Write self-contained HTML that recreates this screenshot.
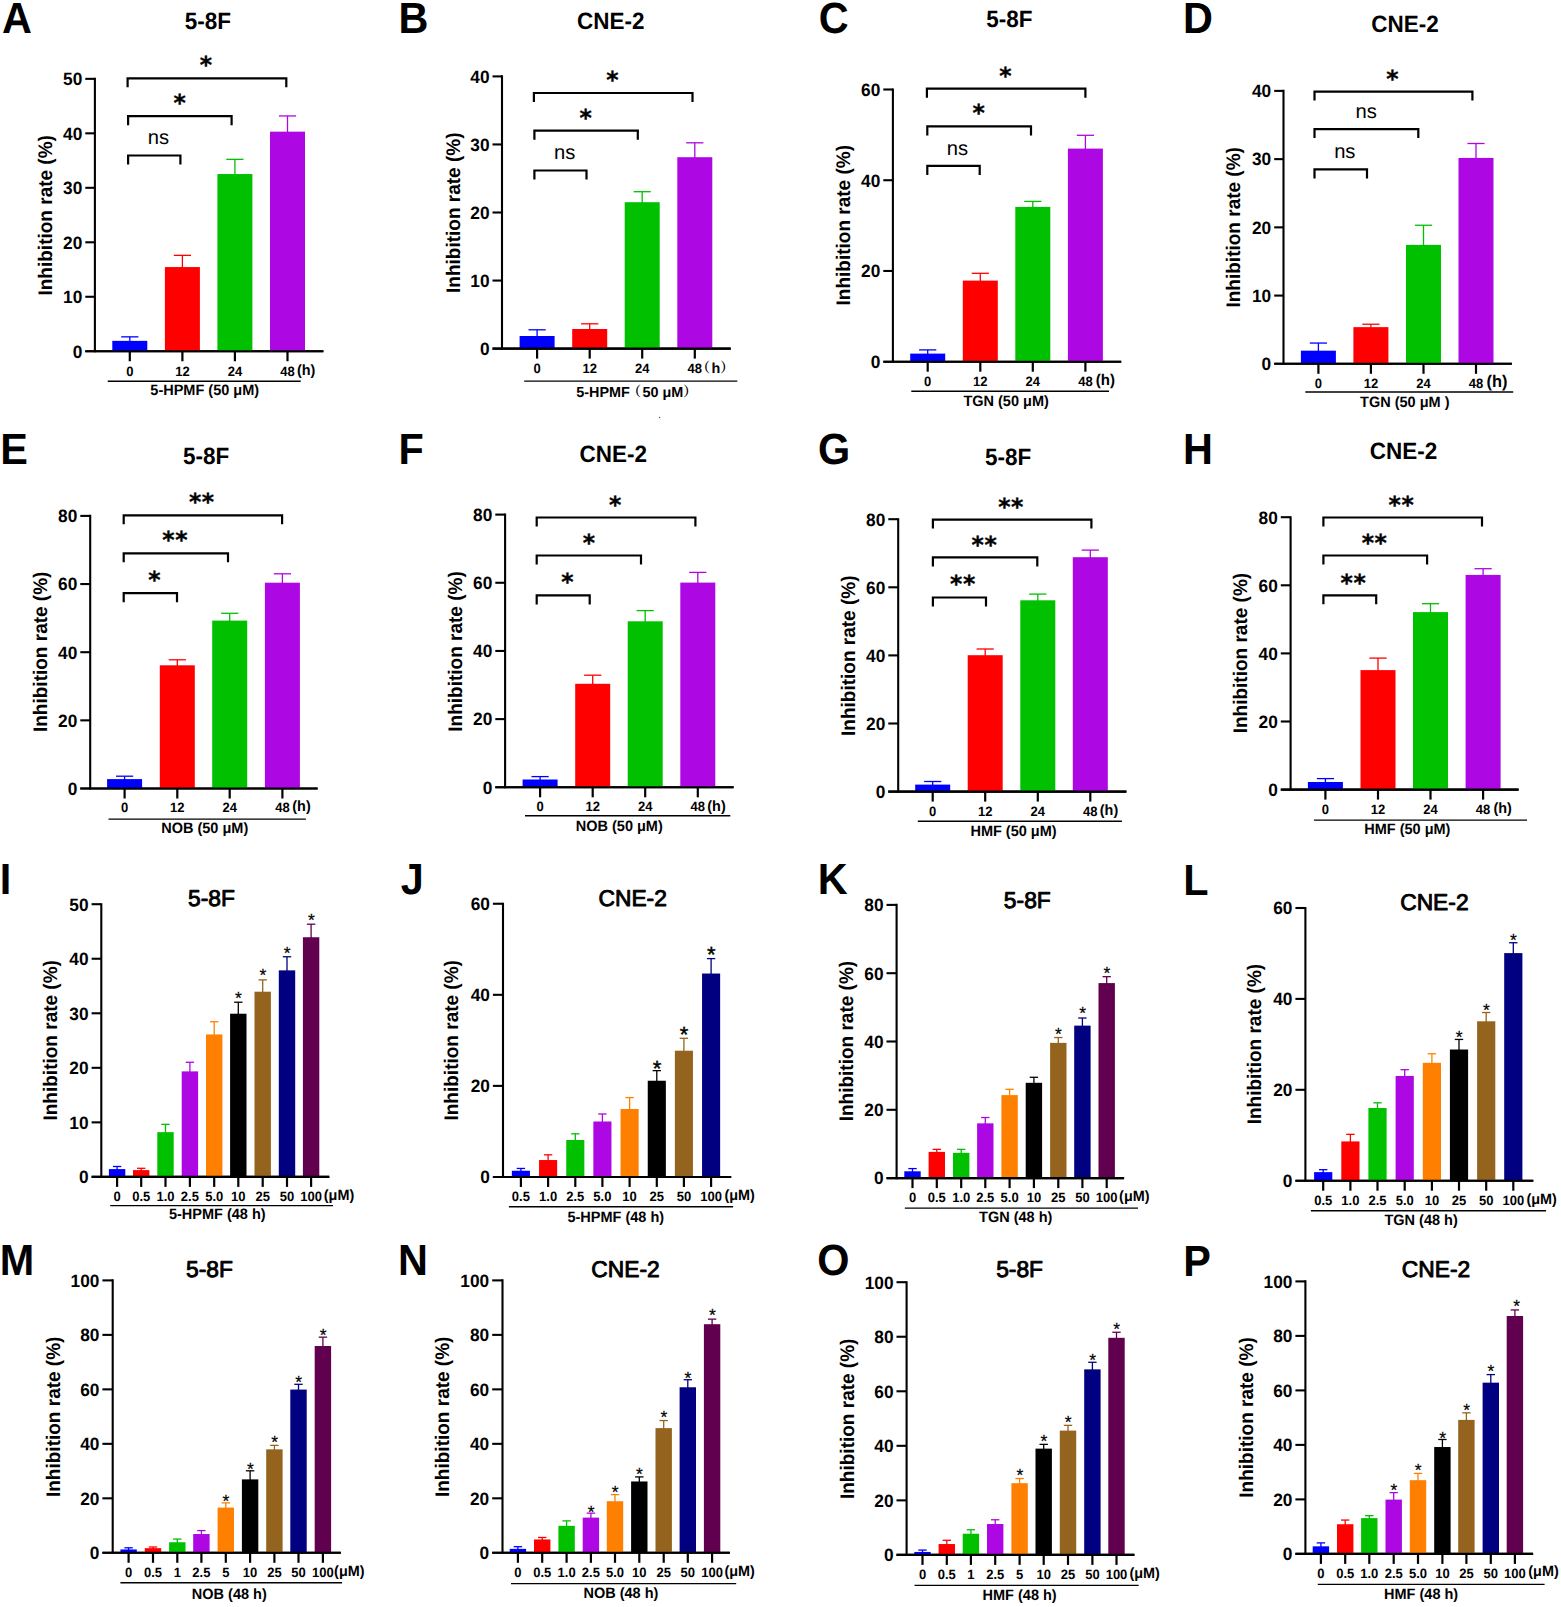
<!DOCTYPE html>
<html lang="en"><head><meta charset="utf-8"><title>Inhibition rate figure</title>
<style>
html,body{margin:0;padding:0;background:#fff}
body{width:1561px;height:1607px;overflow:hidden}
svg{display:block}
</style></head><body>
<svg width="1561" height="1607" viewBox="0 0 1561 1607" font-family="'Liberation Sans',sans-serif" font-weight="bold" fill="#000" stroke="none" text-rendering="geometricPrecision">
<rect width="1561" height="1607" fill="#fff"/>
<g id="panel-A">
<text transform="translate(2.07,32.6) scale(1,1.054)" font-size="41.4">A</text>
<text transform="translate(207.8,28.6) scale(1,1.05)" font-size="22.5" text-anchor="middle">5-8F</text>
<line x1="94.9" y1="77.8" x2="94.9" y2="352.3" stroke="#000" stroke-width="2.1"/>
<line x1="85.3" y1="351.25" x2="323.4" y2="351.25" stroke="#000" stroke-width="2.1"/>
<text transform="translate(82.3,357.61) scale(1,1.035)" font-size="17.3" text-anchor="end">0</text>
<line x1="85.3" y1="296.77" x2="94.9" y2="296.77" stroke="#000" stroke-width="2.1"/>
<text transform="translate(82.3,303.13) scale(1,1.035)" font-size="17.3" text-anchor="end">10</text>
<line x1="85.3" y1="242.29" x2="94.9" y2="242.29" stroke="#000" stroke-width="2.1"/>
<text transform="translate(82.3,248.65) scale(1,1.035)" font-size="17.3" text-anchor="end">20</text>
<line x1="85.3" y1="187.81" x2="94.9" y2="187.81" stroke="#000" stroke-width="2.1"/>
<text transform="translate(82.3,194.17) scale(1,1.035)" font-size="17.3" text-anchor="end">30</text>
<line x1="85.3" y1="133.33" x2="94.9" y2="133.33" stroke="#000" stroke-width="2.1"/>
<text transform="translate(82.3,139.69) scale(1,1.035)" font-size="17.3" text-anchor="end">40</text>
<line x1="85.3" y1="78.85" x2="94.9" y2="78.85" stroke="#000" stroke-width="2.1"/>
<text transform="translate(82.3,85.21) scale(1,1.035)" font-size="17.3" text-anchor="end">50</text>
<text transform="translate(51.8,215.3) rotate(-90) scale(1,1.035)" font-size="19" text-anchor="middle">Inhibition rate (%)</text>
<line x1="129.8" y1="336.85" x2="129.8" y2="341.85" stroke="#0000ff" stroke-width="1.3"/>
<line x1="121.2" y1="336.85" x2="138.4" y2="336.85" stroke="#0000ff" stroke-width="1.3"/>
<rect x="112.3" y="340.85" width="35" height="10.4" fill="#0000ff"/>
<line x1="182.4" y1="255.35" x2="182.4" y2="268.05" stroke="#ff0000" stroke-width="1.3"/>
<line x1="173.8" y1="255.35" x2="191" y2="255.35" stroke="#ff0000" stroke-width="1.3"/>
<rect x="164.9" y="267.05" width="35" height="84.2" fill="#ff0000"/>
<line x1="234.9" y1="159.35" x2="234.9" y2="175.05" stroke="#00c000" stroke-width="1.3"/>
<line x1="226.3" y1="159.35" x2="243.5" y2="159.35" stroke="#00c000" stroke-width="1.3"/>
<rect x="217.4" y="174.05" width="35" height="177.2" fill="#00c000"/>
<line x1="287.5" y1="115.95" x2="287.5" y2="132.65" stroke="#ad07e3" stroke-width="1.3"/>
<line x1="278.9" y1="115.95" x2="296.1" y2="115.95" stroke="#ad07e3" stroke-width="1.3"/>
<rect x="270" y="131.65" width="35" height="219.6" fill="#ad07e3"/>
<line x1="85.3" y1="351.25" x2="323.4" y2="351.25" stroke="#000" stroke-width="2.1"/>
<line x1="129.8" y1="351.25" x2="129.8" y2="361.25" stroke="#000" stroke-width="2.2"/>
<text transform="translate(129.8,376.1) scale(1,1.035)" font-size="13" text-anchor="middle">0</text>
<line x1="182.4" y1="351.25" x2="182.4" y2="361.25" stroke="#000" stroke-width="2.2"/>
<text transform="translate(182.4,376.1) scale(1,1.035)" font-size="13" text-anchor="middle">12</text>
<line x1="234.9" y1="351.25" x2="234.9" y2="361.25" stroke="#000" stroke-width="2.2"/>
<text transform="translate(234.9,376.1) scale(1,1.035)" font-size="13" text-anchor="middle">24</text>
<line x1="287.5" y1="351.25" x2="287.5" y2="361.25" stroke="#000" stroke-width="2.2"/>
<text transform="translate(287.5,376.1) scale(1,1.035)" font-size="13" text-anchor="middle">48</text>
<text transform="translate(297,374.8) scale(1,1.035)" font-size="14.4">(h)</text>
<line x1="107.7" y1="381.3" x2="300.7" y2="381.3" stroke="#000" stroke-width="1.4"/>
<text transform="translate(204.7,395.2) scale(1,1.035)" font-size="14.5" text-anchor="middle">5-HPMF (50 μM)</text>
<path d="M127.6 87.3V78.3H286.3V87.3" fill="none" stroke="#000" stroke-width="2.2"/>
<text x="206" y="73.29" font-size="23.5" text-anchor="middle" font-family="'DejaVu Sans',sans-serif" stroke="#000" stroke-width="0.35">*</text>
<path d="M128.1 125.2V116.2H231.6V125.2" fill="none" stroke="#000" stroke-width="2.2"/>
<text x="179.7" y="110.89" font-size="23.5" text-anchor="middle" font-family="'DejaVu Sans',sans-serif" stroke="#000" stroke-width="0.35">*</text>
<path d="M128.1 164.5V155.5H180.4V164.5" fill="none" stroke="#000" stroke-width="2.2"/>
<text x="158.5" y="144.2" font-size="20.2" font-weight="normal" text-anchor="middle">ns</text>
</g>
<g id="panel-B">
<text transform="translate(398.53,32.6) scale(1,1.054)" font-size="41.4">B</text>
<text transform="translate(610.7,28.6) scale(1,1.05)" font-size="22.5" text-anchor="middle">CNE-2</text>
<line x1="502" y1="75.35" x2="502" y2="349.65" stroke="#000" stroke-width="2.1"/>
<line x1="492.5" y1="348.6" x2="730.7" y2="348.6" stroke="#000" stroke-width="2.1"/>
<text transform="translate(489.5,354.96) scale(1,1.035)" font-size="17.3" text-anchor="end">0</text>
<line x1="492.5" y1="280.55" x2="502" y2="280.55" stroke="#000" stroke-width="2.1"/>
<text transform="translate(489.5,286.91) scale(1,1.035)" font-size="17.3" text-anchor="end">10</text>
<line x1="492.5" y1="212.5" x2="502" y2="212.5" stroke="#000" stroke-width="2.1"/>
<text transform="translate(489.5,218.86) scale(1,1.035)" font-size="17.3" text-anchor="end">20</text>
<line x1="492.5" y1="144.45" x2="502" y2="144.45" stroke="#000" stroke-width="2.1"/>
<text transform="translate(489.5,150.81) scale(1,1.035)" font-size="17.3" text-anchor="end">30</text>
<line x1="492.5" y1="76.4" x2="502" y2="76.4" stroke="#000" stroke-width="2.1"/>
<text transform="translate(489.5,82.76) scale(1,1.035)" font-size="17.3" text-anchor="end">40</text>
<text transform="translate(459.6,212.7) rotate(-90) scale(1,1.035)" font-size="19" text-anchor="middle">Inhibition rate (%)</text>
<line x1="537.1" y1="329.8" x2="537.1" y2="337" stroke="#0000ff" stroke-width="1.3"/>
<line x1="528.5" y1="329.8" x2="545.7" y2="329.8" stroke="#0000ff" stroke-width="1.3"/>
<rect x="519.6" y="336" width="35" height="12.6" fill="#0000ff"/>
<line x1="589.7" y1="323.8" x2="589.7" y2="330" stroke="#ff0000" stroke-width="1.3"/>
<line x1="581.1" y1="323.8" x2="598.3" y2="323.8" stroke="#ff0000" stroke-width="1.3"/>
<rect x="572.2" y="329" width="35" height="19.6" fill="#ff0000"/>
<line x1="642.2" y1="191.7" x2="642.2" y2="203.2" stroke="#00c000" stroke-width="1.3"/>
<line x1="633.6" y1="191.7" x2="650.8" y2="191.7" stroke="#00c000" stroke-width="1.3"/>
<rect x="624.7" y="202.2" width="35" height="146.4" fill="#00c000"/>
<line x1="694.8" y1="142.8" x2="694.8" y2="158.2" stroke="#ad07e3" stroke-width="1.3"/>
<line x1="686.2" y1="142.8" x2="703.4" y2="142.8" stroke="#ad07e3" stroke-width="1.3"/>
<rect x="677.3" y="157.2" width="35" height="191.4" fill="#ad07e3"/>
<line x1="492.5" y1="348.6" x2="730.7" y2="348.6" stroke="#000" stroke-width="2.1"/>
<line x1="537.1" y1="348.6" x2="537.1" y2="358.6" stroke="#000" stroke-width="2.2"/>
<text transform="translate(537.1,372.9) scale(1,1.035)" font-size="13" text-anchor="middle">0</text>
<line x1="589.7" y1="348.6" x2="589.7" y2="358.6" stroke="#000" stroke-width="2.2"/>
<text transform="translate(589.7,372.9) scale(1,1.035)" font-size="13" text-anchor="middle">12</text>
<line x1="642.2" y1="348.6" x2="642.2" y2="358.6" stroke="#000" stroke-width="2.2"/>
<text transform="translate(642.2,372.9) scale(1,1.035)" font-size="13" text-anchor="middle">24</text>
<line x1="694.8" y1="348.6" x2="694.8" y2="358.6" stroke="#000" stroke-width="2.2"/>
<text transform="translate(694.8,372.9) scale(1,1.035)" font-size="13" text-anchor="middle">48</text>
<line x1="524.2" y1="381.1" x2="737.3" y2="381.1" stroke="#000" stroke-width="1.4"/>
<path d="M533.9 102V93H692.5V102" fill="none" stroke="#000" stroke-width="2.2"/>
<text x="612.3" y="87.89" font-size="23.5" text-anchor="middle" font-family="'DejaVu Sans',sans-serif" stroke="#000" stroke-width="0.35">*</text>
<path d="M534.4 139.7V130.7H637.8V139.7" fill="none" stroke="#000" stroke-width="2.2"/>
<text x="585.6" y="126.09" font-size="23.5" text-anchor="middle" font-family="'DejaVu Sans',sans-serif" stroke="#000" stroke-width="0.35">*</text>
<path d="M534.4 179.5V170.5H586.5V179.5" fill="none" stroke="#000" stroke-width="2.2"/>
<text x="564.7" y="159.2" font-size="20.2" font-weight="normal" text-anchor="middle">ns</text>
<circle cx="659.6" cy="417.5" r="0.7" fill="#555"/>
<text y="372.9" font-size="14.4"><tspan x="696.5" y="372.1" font-family="'Liberation Sans','Noto Serif CJK SC',serif" font-size="13.5">（</tspan><tspan x="711.4" y="372.9">h</tspan><tspan x="720.3" y="372.1" font-family="'Liberation Sans','Noto Serif CJK SC',serif" font-size="13.5">）</tspan></text>
<text y="397.1" font-size="14.4"><tspan x="576.3">5-HPMF</tspan><tspan x="627.5" y="396.3" font-family="'Liberation Sans','Noto Serif CJK SC',serif" font-size="13.5">（</tspan><tspan x="642.4" y="397.1">50 μM</tspan><tspan x="683.2" y="396.3" font-family="'Liberation Sans','Noto Serif CJK SC',serif" font-size="13.5">）</tspan></text>
</g>
<g id="panel-C">
<text transform="translate(818.8,32.6) scale(1,1.054)" font-size="41.4">C</text>
<text transform="translate(1009.3,27.3) scale(1,1.05)" font-size="22.5" text-anchor="middle">5-8F</text>
<line x1="892.9" y1="88.45" x2="892.9" y2="362.75" stroke="#000" stroke-width="2.1"/>
<line x1="883.3" y1="361.7" x2="1121.2" y2="361.7" stroke="#000" stroke-width="2.1"/>
<text transform="translate(880.3,368.06) scale(1,1.035)" font-size="17.3" text-anchor="end">0</text>
<line x1="883.3" y1="270.97" x2="892.9" y2="270.97" stroke="#000" stroke-width="2.1"/>
<text transform="translate(880.3,277.32) scale(1,1.035)" font-size="17.3" text-anchor="end">20</text>
<line x1="883.3" y1="180.23" x2="892.9" y2="180.23" stroke="#000" stroke-width="2.1"/>
<text transform="translate(880.3,186.59) scale(1,1.035)" font-size="17.3" text-anchor="end">40</text>
<line x1="883.3" y1="89.5" x2="892.9" y2="89.5" stroke="#000" stroke-width="2.1"/>
<text transform="translate(880.3,95.86) scale(1,1.035)" font-size="17.3" text-anchor="end">60</text>
<text transform="translate(849.5,225.2) rotate(-90) scale(1,1.035)" font-size="19" text-anchor="middle">Inhibition rate (%)</text>
<line x1="927.7" y1="349.9" x2="927.7" y2="354.6" stroke="#0000ff" stroke-width="1.3"/>
<line x1="919.1" y1="349.9" x2="936.3" y2="349.9" stroke="#0000ff" stroke-width="1.3"/>
<rect x="910.2" y="353.6" width="35" height="8.1" fill="#0000ff"/>
<line x1="980.3" y1="273.3" x2="980.3" y2="281.6" stroke="#ff0000" stroke-width="1.3"/>
<line x1="971.7" y1="273.3" x2="988.9" y2="273.3" stroke="#ff0000" stroke-width="1.3"/>
<rect x="962.8" y="280.6" width="35" height="81.1" fill="#ff0000"/>
<line x1="1032.8" y1="201.4" x2="1032.8" y2="207.9" stroke="#00c000" stroke-width="1.3"/>
<line x1="1024.2" y1="201.4" x2="1041.4" y2="201.4" stroke="#00c000" stroke-width="1.3"/>
<rect x="1015.3" y="206.9" width="35" height="154.8" fill="#00c000"/>
<line x1="1085.4" y1="135.3" x2="1085.4" y2="149.6" stroke="#ad07e3" stroke-width="1.3"/>
<line x1="1076.8" y1="135.3" x2="1094" y2="135.3" stroke="#ad07e3" stroke-width="1.3"/>
<rect x="1067.9" y="148.6" width="35" height="213.1" fill="#ad07e3"/>
<line x1="883.3" y1="361.7" x2="1121.2" y2="361.7" stroke="#000" stroke-width="2.1"/>
<line x1="927.7" y1="361.7" x2="927.7" y2="371.7" stroke="#000" stroke-width="2.2"/>
<text transform="translate(927.7,386) scale(1,1.035)" font-size="13" text-anchor="middle">0</text>
<line x1="980.3" y1="361.7" x2="980.3" y2="371.7" stroke="#000" stroke-width="2.2"/>
<text transform="translate(980.3,386) scale(1,1.035)" font-size="13" text-anchor="middle">12</text>
<line x1="1032.8" y1="361.7" x2="1032.8" y2="371.7" stroke="#000" stroke-width="2.2"/>
<text transform="translate(1032.8,386) scale(1,1.035)" font-size="13" text-anchor="middle">24</text>
<line x1="1085.4" y1="361.7" x2="1085.4" y2="371.7" stroke="#000" stroke-width="2.2"/>
<text transform="translate(1085.4,386) scale(1,1.035)" font-size="13" text-anchor="middle">48</text>
<text transform="translate(1095.8,385) scale(1,1.035)" font-size="15">(h)</text>
<line x1="911.3" y1="391.3" x2="1109" y2="391.3" stroke="#000" stroke-width="1.4"/>
<text transform="translate(1006.1,406.4) scale(1,1.035)" font-size="14.5" text-anchor="middle">TGN (50 μM)</text>
<path d="M926.9 97.7V88.7H1085.4V97.7" fill="none" stroke="#000" stroke-width="2.2"/>
<text x="1005.4" y="83.98" font-size="23.5" text-anchor="middle" font-family="'DejaVu Sans',sans-serif" stroke="#000" stroke-width="0.35">*</text>
<path d="M927.3 135.4V126.4H1031V135.4" fill="none" stroke="#000" stroke-width="2.2"/>
<text x="978.7" y="121.48" font-size="23.5" text-anchor="middle" font-family="'DejaVu Sans',sans-serif" stroke="#000" stroke-width="0.35">*</text>
<path d="M927.3 174.9V165.9H979.7V174.9" fill="none" stroke="#000" stroke-width="2.2"/>
<text x="957.5" y="154.7" font-size="20.2" font-weight="normal" text-anchor="middle">ns</text>
</g>
<g id="panel-D">
<text transform="translate(1183.03,32.6) scale(1,1.054)" font-size="41.4">D</text>
<text transform="translate(1404.9,31.8) scale(1,1.05)" font-size="22.5" text-anchor="middle">CNE-2</text>
<line x1="1283.5" y1="89.85" x2="1283.5" y2="364.85" stroke="#000" stroke-width="2.1"/>
<line x1="1274.2" y1="363.8" x2="1511.8" y2="363.8" stroke="#000" stroke-width="2.1"/>
<text transform="translate(1271.2,370.16) scale(1,1.035)" font-size="17.3" text-anchor="end">0</text>
<line x1="1274.2" y1="295.58" x2="1283.5" y2="295.58" stroke="#000" stroke-width="2.1"/>
<text transform="translate(1271.2,301.93) scale(1,1.035)" font-size="17.3" text-anchor="end">10</text>
<line x1="1274.2" y1="227.35" x2="1283.5" y2="227.35" stroke="#000" stroke-width="2.1"/>
<text transform="translate(1271.2,233.71) scale(1,1.035)" font-size="17.3" text-anchor="end">20</text>
<line x1="1274.2" y1="159.13" x2="1283.5" y2="159.13" stroke="#000" stroke-width="2.1"/>
<text transform="translate(1271.2,165.48) scale(1,1.035)" font-size="17.3" text-anchor="end">30</text>
<line x1="1274.2" y1="90.9" x2="1283.5" y2="90.9" stroke="#000" stroke-width="2.1"/>
<text transform="translate(1271.2,97.26) scale(1,1.035)" font-size="17.3" text-anchor="end">40</text>
<text transform="translate(1240,227.3) rotate(-90) scale(1,1.035)" font-size="19" text-anchor="middle">Inhibition rate (%)</text>
<line x1="1318.4" y1="343.06" x2="1318.4" y2="351.68" stroke="#0000ff" stroke-width="1.3"/>
<line x1="1309.8" y1="343.06" x2="1327" y2="343.06" stroke="#0000ff" stroke-width="1.3"/>
<rect x="1300.9" y="350.68" width="35" height="13.12" fill="#0000ff"/>
<line x1="1370.9" y1="324.23" x2="1370.9" y2="328.13" stroke="#ff0000" stroke-width="1.3"/>
<line x1="1362.3" y1="324.23" x2="1379.5" y2="324.23" stroke="#ff0000" stroke-width="1.3"/>
<rect x="1353.4" y="327.13" width="35" height="36.67" fill="#ff0000"/>
<line x1="1423.5" y1="225.25" x2="1423.5" y2="245.88" stroke="#00c000" stroke-width="1.3"/>
<line x1="1414.9" y1="225.25" x2="1432.1" y2="225.25" stroke="#00c000" stroke-width="1.3"/>
<rect x="1406" y="244.88" width="35" height="118.92" fill="#00c000"/>
<line x1="1476" y1="143.5" x2="1476" y2="158.92" stroke="#ad07e3" stroke-width="1.3"/>
<line x1="1467.4" y1="143.5" x2="1484.6" y2="143.5" stroke="#ad07e3" stroke-width="1.3"/>
<rect x="1458.5" y="157.92" width="35" height="205.88" fill="#ad07e3"/>
<line x1="1274.2" y1="363.8" x2="1511.8" y2="363.8" stroke="#000" stroke-width="2.1"/>
<line x1="1318.4" y1="363.8" x2="1318.4" y2="373.8" stroke="#000" stroke-width="2.2"/>
<text transform="translate(1318.4,387.5) scale(1,1.035)" font-size="13" text-anchor="middle">0</text>
<line x1="1370.9" y1="363.8" x2="1370.9" y2="373.8" stroke="#000" stroke-width="2.2"/>
<text transform="translate(1370.9,387.5) scale(1,1.035)" font-size="13" text-anchor="middle">12</text>
<line x1="1423.5" y1="363.8" x2="1423.5" y2="373.8" stroke="#000" stroke-width="2.2"/>
<text transform="translate(1423.5,387.5) scale(1,1.035)" font-size="13" text-anchor="middle">24</text>
<line x1="1476" y1="363.8" x2="1476" y2="373.8" stroke="#000" stroke-width="2.2"/>
<text transform="translate(1476,387.5) scale(1,1.035)" font-size="13" text-anchor="middle">48</text>
<text transform="translate(1486.6,387.1) scale(1,1.035)" font-size="16.4">(h)</text>
<line x1="1305.3" y1="392" x2="1513.2" y2="392" stroke="#000" stroke-width="1.4"/>
<text transform="translate(1404.75,406.6) scale(1,1.035)" font-size="14.5" text-anchor="middle">TGN (50 μM )</text>
<path d="M1314.5 100.6V91.6H1472.4V100.6" fill="none" stroke="#000" stroke-width="2.2"/>
<text x="1392.4" y="86.78" font-size="23.5" text-anchor="middle" font-family="'DejaVu Sans',sans-serif" stroke="#000" stroke-width="0.35">*</text>
<path d="M1314.5 138.1V129.1H1418.3V138.1" fill="none" stroke="#000" stroke-width="2.2"/>
<text x="1366.2" y="117.5" font-size="20.2" font-weight="normal" text-anchor="middle">ns</text>
<path d="M1314.5 178.4V169.4H1367V178.4" fill="none" stroke="#000" stroke-width="2.2"/>
<text x="1344.8" y="157.9" font-size="20.2" font-weight="normal" text-anchor="middle">ns</text>
</g>
<g id="panel-E">
<text transform="translate(0.33,464.3) scale(1,1.054)" font-size="41.4">E</text>
<text transform="translate(206,464.3) scale(1,1.05)" font-size="22.5" text-anchor="middle">5-8F</text>
<line x1="90.2" y1="514.85" x2="90.2" y2="789.55" stroke="#000" stroke-width="2.1"/>
<line x1="80.3" y1="788.5" x2="317.6" y2="788.5" stroke="#000" stroke-width="2.1"/>
<text transform="translate(77.3,794.86) scale(1,1.035)" font-size="17.3" text-anchor="end">0</text>
<line x1="80.3" y1="720.35" x2="90.2" y2="720.35" stroke="#000" stroke-width="2.1"/>
<text transform="translate(77.3,726.71) scale(1,1.035)" font-size="17.3" text-anchor="end">20</text>
<line x1="80.3" y1="652.2" x2="90.2" y2="652.2" stroke="#000" stroke-width="2.1"/>
<text transform="translate(77.3,658.56) scale(1,1.035)" font-size="17.3" text-anchor="end">40</text>
<line x1="80.3" y1="584.05" x2="90.2" y2="584.05" stroke="#000" stroke-width="2.1"/>
<text transform="translate(77.3,590.41) scale(1,1.035)" font-size="17.3" text-anchor="end">60</text>
<line x1="80.3" y1="515.9" x2="90.2" y2="515.9" stroke="#000" stroke-width="2.1"/>
<text transform="translate(77.3,522.26) scale(1,1.035)" font-size="17.3" text-anchor="end">80</text>
<text transform="translate(46.5,651.8) rotate(-90) scale(1,1.035)" font-size="19" text-anchor="middle">Inhibition rate (%)</text>
<line x1="124.6" y1="776.2" x2="124.6" y2="780.1" stroke="#0000ff" stroke-width="1.3"/>
<line x1="116" y1="776.2" x2="133.2" y2="776.2" stroke="#0000ff" stroke-width="1.3"/>
<rect x="107.1" y="779.1" width="35" height="9.4" fill="#0000ff"/>
<line x1="177.3" y1="659.8" x2="177.3" y2="666.3" stroke="#ff0000" stroke-width="1.3"/>
<line x1="168.7" y1="659.8" x2="185.9" y2="659.8" stroke="#ff0000" stroke-width="1.3"/>
<rect x="159.8" y="665.3" width="35" height="123.2" fill="#ff0000"/>
<line x1="229.7" y1="613.3" x2="229.7" y2="621.6" stroke="#00c000" stroke-width="1.3"/>
<line x1="221.1" y1="613.3" x2="238.3" y2="613.3" stroke="#00c000" stroke-width="1.3"/>
<rect x="212.2" y="620.6" width="35" height="167.9" fill="#00c000"/>
<line x1="282.4" y1="573.8" x2="282.4" y2="583.7" stroke="#ad07e3" stroke-width="1.3"/>
<line x1="273.8" y1="573.8" x2="291" y2="573.8" stroke="#ad07e3" stroke-width="1.3"/>
<rect x="264.9" y="582.7" width="35" height="205.8" fill="#ad07e3"/>
<line x1="80.3" y1="788.5" x2="317.6" y2="788.5" stroke="#000" stroke-width="2.1"/>
<line x1="124.6" y1="788.5" x2="124.6" y2="798.5" stroke="#000" stroke-width="2.2"/>
<text transform="translate(124.6,811.9) scale(1,1.035)" font-size="13" text-anchor="middle">0</text>
<line x1="177.3" y1="788.5" x2="177.3" y2="798.5" stroke="#000" stroke-width="2.2"/>
<text transform="translate(177.3,811.9) scale(1,1.035)" font-size="13" text-anchor="middle">12</text>
<line x1="229.7" y1="788.5" x2="229.7" y2="798.5" stroke="#000" stroke-width="2.2"/>
<text transform="translate(229.7,811.9) scale(1,1.035)" font-size="13" text-anchor="middle">24</text>
<line x1="282.4" y1="788.5" x2="282.4" y2="798.5" stroke="#000" stroke-width="2.2"/>
<text transform="translate(282.4,811.9) scale(1,1.035)" font-size="13" text-anchor="middle">48</text>
<text transform="translate(292.3,811.2) scale(1,1.035)" font-size="14.4">(h)</text>
<line x1="108.5" y1="819.1" x2="305.9" y2="819.1" stroke="#000" stroke-width="1.4"/>
<text transform="translate(204.7,832.8) scale(1,1.035)" font-size="14.5" text-anchor="middle">NOB (50 μM)</text>
<path d="M123.7 524.3V515.3H282.1V524.3" fill="none" stroke="#000" stroke-width="2.2"/>
<text x="201.8" y="510.49" font-size="23.5" text-anchor="middle" font-family="'DejaVu Sans',sans-serif" stroke="#000" stroke-width="0.35" letter-spacing="0.6">**</text>
<path d="M123.7 562.3V553.3H228V562.3" fill="none" stroke="#000" stroke-width="2.2"/>
<text x="175.2" y="548.29" font-size="23.5" text-anchor="middle" font-family="'DejaVu Sans',sans-serif" stroke="#000" stroke-width="0.35" letter-spacing="0.6">**</text>
<path d="M123.7 602.2V593.2H177V602.2" fill="none" stroke="#000" stroke-width="2.2"/>
<text x="154.4" y="587.89" font-size="23.5" text-anchor="middle" font-family="'DejaVu Sans',sans-serif" stroke="#000" stroke-width="0.35">*</text>
</g>
<g id="panel-F">
<text transform="translate(398.53,464.3) scale(1,1.054)" font-size="41.4">F</text>
<text transform="translate(613.3,462.2) scale(1,1.05)" font-size="22.5" text-anchor="middle">CNE-2</text>
<line x1="505.1" y1="513.55" x2="505.1" y2="788.35" stroke="#000" stroke-width="2.1"/>
<line x1="495.3" y1="787.3" x2="733.6" y2="787.3" stroke="#000" stroke-width="2.1"/>
<text transform="translate(492.3,793.66) scale(1,1.035)" font-size="17.3" text-anchor="end">0</text>
<line x1="495.3" y1="719.12" x2="505.1" y2="719.12" stroke="#000" stroke-width="2.1"/>
<text transform="translate(492.3,725.48) scale(1,1.035)" font-size="17.3" text-anchor="end">20</text>
<line x1="495.3" y1="650.95" x2="505.1" y2="650.95" stroke="#000" stroke-width="2.1"/>
<text transform="translate(492.3,657.31) scale(1,1.035)" font-size="17.3" text-anchor="end">40</text>
<line x1="495.3" y1="582.77" x2="505.1" y2="582.77" stroke="#000" stroke-width="2.1"/>
<text transform="translate(492.3,589.13) scale(1,1.035)" font-size="17.3" text-anchor="end">60</text>
<line x1="495.3" y1="514.6" x2="505.1" y2="514.6" stroke="#000" stroke-width="2.1"/>
<text transform="translate(492.3,520.96) scale(1,1.035)" font-size="17.3" text-anchor="end">80</text>
<text transform="translate(461.7,651.5) rotate(-90) scale(1,1.035)" font-size="19" text-anchor="middle">Inhibition rate (%)</text>
<line x1="540.1" y1="776.6" x2="540.1" y2="780.5" stroke="#0000ff" stroke-width="1.3"/>
<line x1="531.5" y1="776.6" x2="548.7" y2="776.6" stroke="#0000ff" stroke-width="1.3"/>
<rect x="522.6" y="779.5" width="35" height="7.8" fill="#0000ff"/>
<line x1="592.7" y1="675.2" x2="592.7" y2="684.8" stroke="#ff0000" stroke-width="1.3"/>
<line x1="584.1" y1="675.2" x2="601.3" y2="675.2" stroke="#ff0000" stroke-width="1.3"/>
<rect x="575.2" y="683.8" width="35" height="103.5" fill="#ff0000"/>
<line x1="645.2" y1="610.6" x2="645.2" y2="622.3" stroke="#00c000" stroke-width="1.3"/>
<line x1="636.6" y1="610.6" x2="653.8" y2="610.6" stroke="#00c000" stroke-width="1.3"/>
<rect x="627.7" y="621.3" width="35" height="166" fill="#00c000"/>
<line x1="697.8" y1="572.4" x2="697.8" y2="583.6" stroke="#ad07e3" stroke-width="1.3"/>
<line x1="689.2" y1="572.4" x2="706.4" y2="572.4" stroke="#ad07e3" stroke-width="1.3"/>
<rect x="680.3" y="582.6" width="35" height="204.7" fill="#ad07e3"/>
<line x1="495.3" y1="787.3" x2="733.6" y2="787.3" stroke="#000" stroke-width="2.1"/>
<line x1="540.1" y1="787.3" x2="540.1" y2="797.3" stroke="#000" stroke-width="2.2"/>
<text transform="translate(540.1,811.2) scale(1,1.035)" font-size="13" text-anchor="middle">0</text>
<line x1="592.7" y1="787.3" x2="592.7" y2="797.3" stroke="#000" stroke-width="2.2"/>
<text transform="translate(592.7,811.2) scale(1,1.035)" font-size="13" text-anchor="middle">12</text>
<line x1="645.2" y1="787.3" x2="645.2" y2="797.3" stroke="#000" stroke-width="2.2"/>
<text transform="translate(645.2,811.2) scale(1,1.035)" font-size="13" text-anchor="middle">24</text>
<line x1="697.8" y1="787.3" x2="697.8" y2="797.3" stroke="#000" stroke-width="2.2"/>
<text transform="translate(697.8,811.2) scale(1,1.035)" font-size="13" text-anchor="middle">48</text>
<text transform="translate(707.3,810.7) scale(1,1.035)" font-size="14.4">(h)</text>
<line x1="525" y1="815.7" x2="730.3" y2="815.7" stroke="#000" stroke-width="1.4"/>
<text transform="translate(619.25,831.3) scale(1,1.035)" font-size="14.5" text-anchor="middle">NOB (50 μM)</text>
<path d="M536.7 526.5V517.5H695.4V526.5" fill="none" stroke="#000" stroke-width="2.2"/>
<text x="615.2" y="512.88" font-size="23.5" text-anchor="middle" font-family="'DejaVu Sans',sans-serif" stroke="#000" stroke-width="0.35">*</text>
<path d="M536.7 564.5V555.5H641V564.5" fill="none" stroke="#000" stroke-width="2.2"/>
<text x="588.8" y="550.69" font-size="23.5" text-anchor="middle" font-family="'DejaVu Sans',sans-serif" stroke="#000" stroke-width="0.35">*</text>
<path d="M536.7 604.4V595.4H589.7V604.4" fill="none" stroke="#000" stroke-width="2.2"/>
<text x="567.3" y="590.39" font-size="23.5" text-anchor="middle" font-family="'DejaVu Sans',sans-serif" stroke="#000" stroke-width="0.35">*</text>
</g>
<g id="panel-G">
<text transform="translate(818,464.3) scale(1,1.054)" font-size="41.4">G</text>
<text transform="translate(1008,465.4) scale(1,1.05)" font-size="22.5" text-anchor="middle">5-8F</text>
<line x1="898.2" y1="518.15" x2="898.2" y2="792.65" stroke="#000" stroke-width="2.1"/>
<line x1="888.3" y1="791.6" x2="1126.4" y2="791.6" stroke="#000" stroke-width="2.1"/>
<text transform="translate(885.3,797.96) scale(1,1.035)" font-size="17.3" text-anchor="end">0</text>
<line x1="888.3" y1="723.5" x2="898.2" y2="723.5" stroke="#000" stroke-width="2.1"/>
<text transform="translate(885.3,729.86) scale(1,1.035)" font-size="17.3" text-anchor="end">20</text>
<line x1="888.3" y1="655.4" x2="898.2" y2="655.4" stroke="#000" stroke-width="2.1"/>
<text transform="translate(885.3,661.76) scale(1,1.035)" font-size="17.3" text-anchor="end">40</text>
<line x1="888.3" y1="587.3" x2="898.2" y2="587.3" stroke="#000" stroke-width="2.1"/>
<text transform="translate(885.3,593.66) scale(1,1.035)" font-size="17.3" text-anchor="end">60</text>
<line x1="888.3" y1="519.2" x2="898.2" y2="519.2" stroke="#000" stroke-width="2.1"/>
<text transform="translate(885.3,525.56) scale(1,1.035)" font-size="17.3" text-anchor="end">80</text>
<text transform="translate(854.8,655.7) rotate(-90) scale(1,1.035)" font-size="19" text-anchor="middle">Inhibition rate (%)</text>
<line x1="932.7" y1="781.5" x2="932.7" y2="785.6" stroke="#0000ff" stroke-width="1.3"/>
<line x1="924.1" y1="781.5" x2="941.3" y2="781.5" stroke="#0000ff" stroke-width="1.3"/>
<rect x="915.2" y="784.6" width="35" height="7" fill="#0000ff"/>
<line x1="985.2" y1="649" x2="985.2" y2="656.2" stroke="#ff0000" stroke-width="1.3"/>
<line x1="976.6" y1="649" x2="993.8" y2="649" stroke="#ff0000" stroke-width="1.3"/>
<rect x="967.7" y="655.2" width="35" height="136.4" fill="#ff0000"/>
<line x1="1037.8" y1="594.1" x2="1037.8" y2="601.3" stroke="#00c000" stroke-width="1.3"/>
<line x1="1029.2" y1="594.1" x2="1046.4" y2="594.1" stroke="#00c000" stroke-width="1.3"/>
<rect x="1020.3" y="600.3" width="35" height="191.3" fill="#00c000"/>
<line x1="1090.3" y1="550.1" x2="1090.3" y2="558.2" stroke="#ad07e3" stroke-width="1.3"/>
<line x1="1081.7" y1="550.1" x2="1098.9" y2="550.1" stroke="#ad07e3" stroke-width="1.3"/>
<rect x="1072.8" y="557.2" width="35" height="234.4" fill="#ad07e3"/>
<line x1="888.3" y1="791.6" x2="1126.4" y2="791.6" stroke="#000" stroke-width="2.1"/>
<line x1="932.7" y1="791.6" x2="932.7" y2="801.6" stroke="#000" stroke-width="2.2"/>
<text transform="translate(932.7,815.7) scale(1,1.035)" font-size="13" text-anchor="middle">0</text>
<line x1="985.2" y1="791.6" x2="985.2" y2="801.6" stroke="#000" stroke-width="2.2"/>
<text transform="translate(985.2,815.7) scale(1,1.035)" font-size="13" text-anchor="middle">12</text>
<line x1="1037.8" y1="791.6" x2="1037.8" y2="801.6" stroke="#000" stroke-width="2.2"/>
<text transform="translate(1037.8,815.7) scale(1,1.035)" font-size="13" text-anchor="middle">24</text>
<line x1="1090.3" y1="791.6" x2="1090.3" y2="801.6" stroke="#000" stroke-width="2.2"/>
<text transform="translate(1090.3,815.7) scale(1,1.035)" font-size="13" text-anchor="middle">48</text>
<text transform="translate(1099.8,814.8) scale(1,1.035)" font-size="14.4">(h)</text>
<line x1="917.8" y1="821.2" x2="1121.9" y2="821.2" stroke="#000" stroke-width="1.4"/>
<text transform="translate(1013.5,836.1) scale(1,1.035)" font-size="14.5" text-anchor="middle">HMF (50 μM)</text>
<path d="M932.9 528.6V519.6H1091.4V528.6" fill="none" stroke="#000" stroke-width="2.2"/>
<text x="1011.1" y="514.99" font-size="23.5" text-anchor="middle" font-family="'DejaVu Sans',sans-serif" stroke="#000" stroke-width="0.35" letter-spacing="0.6">**</text>
<path d="M932.9 566.4V557.4H1037.3V566.4" fill="none" stroke="#000" stroke-width="2.2"/>
<text x="984.4" y="552.79" font-size="23.5" text-anchor="middle" font-family="'DejaVu Sans',sans-serif" stroke="#000" stroke-width="0.35" letter-spacing="0.6">**</text>
<path d="M932.9 606.5V597.5H986V606.5" fill="none" stroke="#000" stroke-width="2.2"/>
<text x="963" y="592.49" font-size="23.5" text-anchor="middle" font-family="'DejaVu Sans',sans-serif" stroke="#000" stroke-width="0.35" letter-spacing="0.6">**</text>
</g>
<g id="panel-H">
<text transform="translate(1183.03,464.3) scale(1,1.054)" font-size="41.4">H</text>
<text transform="translate(1403.6,458.8) scale(1,1.05)" font-size="22.5" text-anchor="middle">CNE-2</text>
<line x1="1290.6" y1="516.15" x2="1290.6" y2="790.65" stroke="#000" stroke-width="2.1"/>
<line x1="1280.8" y1="789.6" x2="1518.6" y2="789.6" stroke="#000" stroke-width="2.1"/>
<text transform="translate(1277.8,795.96) scale(1,1.035)" font-size="17.3" text-anchor="end">0</text>
<line x1="1280.8" y1="721.5" x2="1290.6" y2="721.5" stroke="#000" stroke-width="2.1"/>
<text transform="translate(1277.8,727.86) scale(1,1.035)" font-size="17.3" text-anchor="end">20</text>
<line x1="1280.8" y1="653.4" x2="1290.6" y2="653.4" stroke="#000" stroke-width="2.1"/>
<text transform="translate(1277.8,659.76) scale(1,1.035)" font-size="17.3" text-anchor="end">40</text>
<line x1="1280.8" y1="585.3" x2="1290.6" y2="585.3" stroke="#000" stroke-width="2.1"/>
<text transform="translate(1277.8,591.66) scale(1,1.035)" font-size="17.3" text-anchor="end">60</text>
<line x1="1280.8" y1="517.2" x2="1290.6" y2="517.2" stroke="#000" stroke-width="2.1"/>
<text transform="translate(1277.8,523.56) scale(1,1.035)" font-size="17.3" text-anchor="end">80</text>
<text transform="translate(1246.8,653.1) rotate(-90) scale(1,1.035)" font-size="19" text-anchor="middle">Inhibition rate (%)</text>
<line x1="1325.4" y1="778.6" x2="1325.4" y2="783" stroke="#0000ff" stroke-width="1.3"/>
<line x1="1316.8" y1="778.6" x2="1334" y2="778.6" stroke="#0000ff" stroke-width="1.3"/>
<rect x="1307.9" y="782" width="35" height="7.6" fill="#0000ff"/>
<line x1="1378" y1="658.1" x2="1378" y2="671.1" stroke="#ff0000" stroke-width="1.3"/>
<line x1="1369.4" y1="658.1" x2="1386.6" y2="658.1" stroke="#ff0000" stroke-width="1.3"/>
<rect x="1360.5" y="670.1" width="35" height="119.5" fill="#ff0000"/>
<line x1="1430.5" y1="603.7" x2="1430.5" y2="613.1" stroke="#00c000" stroke-width="1.3"/>
<line x1="1421.9" y1="603.7" x2="1439.1" y2="603.7" stroke="#00c000" stroke-width="1.3"/>
<rect x="1413" y="612.1" width="35" height="177.5" fill="#00c000"/>
<line x1="1483.1" y1="568.7" x2="1483.1" y2="575.9" stroke="#ad07e3" stroke-width="1.3"/>
<line x1="1474.5" y1="568.7" x2="1491.7" y2="568.7" stroke="#ad07e3" stroke-width="1.3"/>
<rect x="1465.6" y="574.9" width="35" height="214.7" fill="#ad07e3"/>
<line x1="1280.8" y1="789.6" x2="1518.6" y2="789.6" stroke="#000" stroke-width="2.1"/>
<line x1="1325.4" y1="789.6" x2="1325.4" y2="799.6" stroke="#000" stroke-width="2.2"/>
<text transform="translate(1325.4,813.9) scale(1,1.035)" font-size="13" text-anchor="middle">0</text>
<line x1="1378" y1="789.6" x2="1378" y2="799.6" stroke="#000" stroke-width="2.2"/>
<text transform="translate(1378,813.9) scale(1,1.035)" font-size="13" text-anchor="middle">12</text>
<line x1="1430.5" y1="789.6" x2="1430.5" y2="799.6" stroke="#000" stroke-width="2.2"/>
<text transform="translate(1430.5,813.9) scale(1,1.035)" font-size="13" text-anchor="middle">24</text>
<line x1="1483.1" y1="789.6" x2="1483.1" y2="799.6" stroke="#000" stroke-width="2.2"/>
<text transform="translate(1483.1,813.9) scale(1,1.035)" font-size="13" text-anchor="middle">48</text>
<text transform="translate(1493.5,812.9) scale(1,1.035)" font-size="14.4">(h)</text>
<line x1="1313.9" y1="820.1" x2="1527" y2="820.1" stroke="#000" stroke-width="1.4"/>
<text transform="translate(1407.3,834.3) scale(1,1.035)" font-size="14.5" text-anchor="middle">HMF (50 μM)</text>
<path d="M1323.4 526.5V517.5H1482V526.5" fill="none" stroke="#000" stroke-width="2.2"/>
<text x="1401.5" y="512.88" font-size="23.5" text-anchor="middle" font-family="'DejaVu Sans',sans-serif" stroke="#000" stroke-width="0.35" letter-spacing="0.6">**</text>
<path d="M1323.4 564.5V555.5H1427.1V564.5" fill="none" stroke="#000" stroke-width="2.2"/>
<text x="1374.6" y="550.79" font-size="23.5" text-anchor="middle" font-family="'DejaVu Sans',sans-serif" stroke="#000" stroke-width="0.35" letter-spacing="0.6">**</text>
<path d="M1323.4 604.3V595.3H1376.2V604.3" fill="none" stroke="#000" stroke-width="2.2"/>
<text x="1353.4" y="590.59" font-size="23.5" text-anchor="middle" font-family="'DejaVu Sans',sans-serif" stroke="#000" stroke-width="0.35" letter-spacing="0.6">**</text>
</g>
<g id="panel-I">
<text transform="translate(-0.17,893.7) scale(1,1.054)" font-size="41.4">I</text>
<text x="211.4" y="905.9" font-size="22.8" font-weight="normal" text-anchor="middle" stroke="#000" stroke-width="0.9" stroke-linejoin="round" stroke-linecap="round">5-8F</text>
<line x1="101.3" y1="903.15" x2="101.3" y2="1177.95" stroke="#000" stroke-width="2.1"/>
<line x1="91.6" y1="1176.9" x2="329.3" y2="1176.9" stroke="#000" stroke-width="2.1"/>
<text transform="translate(88.6,1183.26) scale(1,1.035)" font-size="17.3" text-anchor="end">0</text>
<line x1="91.6" y1="1122.36" x2="101.3" y2="1122.36" stroke="#000" stroke-width="2.1"/>
<text transform="translate(88.6,1128.72) scale(1,1.035)" font-size="17.3" text-anchor="end">10</text>
<line x1="91.6" y1="1067.82" x2="101.3" y2="1067.82" stroke="#000" stroke-width="2.1"/>
<text transform="translate(88.6,1074.18) scale(1,1.035)" font-size="17.3" text-anchor="end">20</text>
<line x1="91.6" y1="1013.28" x2="101.3" y2="1013.28" stroke="#000" stroke-width="2.1"/>
<text transform="translate(88.6,1019.64) scale(1,1.035)" font-size="17.3" text-anchor="end">30</text>
<line x1="91.6" y1="958.74" x2="101.3" y2="958.74" stroke="#000" stroke-width="2.1"/>
<text transform="translate(88.6,965.1) scale(1,1.035)" font-size="17.3" text-anchor="end">40</text>
<line x1="91.6" y1="904.2" x2="101.3" y2="904.2" stroke="#000" stroke-width="2.1"/>
<text transform="translate(88.6,910.56) scale(1,1.035)" font-size="17.3" text-anchor="end">50</text>
<text transform="translate(56.9,1040.3) rotate(-90) scale(1,1.035)" font-size="19" text-anchor="middle">Inhibition rate (%)</text>
<line x1="117.1" y1="1166.49" x2="117.1" y2="1170.09" stroke="#0000ff" stroke-width="1.3"/>
<line x1="112.9" y1="1166.49" x2="121.3" y2="1166.49" stroke="#0000ff" stroke-width="1.3"/>
<rect x="108.9" y="1169.09" width="16.4" height="7.81" fill="#0000ff"/>
<line x1="141.2" y1="1168.29" x2="141.2" y2="1171.09" stroke="#ff0000" stroke-width="1.3"/>
<line x1="137" y1="1168.29" x2="145.4" y2="1168.29" stroke="#ff0000" stroke-width="1.3"/>
<rect x="133" y="1170.09" width="16.4" height="6.81" fill="#ff0000"/>
<line x1="165.5" y1="1124.34" x2="165.5" y2="1133.15" stroke="#00c000" stroke-width="1.3"/>
<line x1="161.3" y1="1124.34" x2="169.7" y2="1124.34" stroke="#00c000" stroke-width="1.3"/>
<rect x="157.3" y="1132.15" width="16.4" height="44.75" fill="#00c000"/>
<line x1="189.9" y1="1062.27" x2="189.9" y2="1072.38" stroke="#ad07e3" stroke-width="1.3"/>
<line x1="185.7" y1="1062.27" x2="194.1" y2="1062.27" stroke="#ad07e3" stroke-width="1.3"/>
<rect x="181.7" y="1071.38" width="16.4" height="105.52" fill="#ad07e3"/>
<line x1="214.2" y1="1021.73" x2="214.2" y2="1035.44" stroke="#ff8000" stroke-width="1.3"/>
<line x1="210" y1="1021.73" x2="218.4" y2="1021.73" stroke="#ff8000" stroke-width="1.3"/>
<rect x="206" y="1034.44" width="16.4" height="142.46" fill="#ff8000"/>
<line x1="238.3" y1="1002.21" x2="238.3" y2="1014.72" stroke="#000000" stroke-width="1.3"/>
<line x1="234.1" y1="1002.21" x2="242.5" y2="1002.21" stroke="#000000" stroke-width="1.3"/>
<rect x="230.1" y="1013.72" width="16.4" height="163.18" fill="#000000"/>
<line x1="262.7" y1="979.88" x2="262.7" y2="992.7" stroke="#94641f" stroke-width="1.3"/>
<line x1="258.5" y1="979.88" x2="266.9" y2="979.88" stroke="#94641f" stroke-width="1.3"/>
<rect x="254.5" y="991.7" width="16.4" height="185.2" fill="#94641f"/>
<line x1="287" y1="956.76" x2="287" y2="971.37" stroke="#000080" stroke-width="1.3"/>
<line x1="282.8" y1="956.76" x2="291.2" y2="956.76" stroke="#000080" stroke-width="1.3"/>
<rect x="278.8" y="970.37" width="16.4" height="206.53" fill="#000080"/>
<line x1="311.1" y1="924.22" x2="311.1" y2="938.24" stroke="#60004f" stroke-width="1.3"/>
<line x1="306.9" y1="924.22" x2="315.3" y2="924.22" stroke="#60004f" stroke-width="1.3"/>
<rect x="302.9" y="937.24" width="16.4" height="239.66" fill="#60004f"/>
<line x1="91.6" y1="1176.9" x2="329.3" y2="1176.9" stroke="#000" stroke-width="2.1"/>
<line x1="117.1" y1="1176.9" x2="117.1" y2="1186.9" stroke="#000" stroke-width="2.2"/>
<text transform="translate(117.1,1200.7) scale(1,1.035)" font-size="13" text-anchor="middle">0</text>
<line x1="141.2" y1="1176.9" x2="141.2" y2="1186.9" stroke="#000" stroke-width="2.2"/>
<text transform="translate(141.2,1200.7) scale(1,1.035)" font-size="13" text-anchor="middle">0.5</text>
<line x1="165.5" y1="1176.9" x2="165.5" y2="1186.9" stroke="#000" stroke-width="2.2"/>
<text transform="translate(165.5,1200.7) scale(1,1.035)" font-size="13" text-anchor="middle">1.0</text>
<line x1="189.9" y1="1176.9" x2="189.9" y2="1186.9" stroke="#000" stroke-width="2.2"/>
<text transform="translate(189.9,1200.7) scale(1,1.035)" font-size="13" text-anchor="middle">2.5</text>
<line x1="214.2" y1="1176.9" x2="214.2" y2="1186.9" stroke="#000" stroke-width="2.2"/>
<text transform="translate(214.2,1200.7) scale(1,1.035)" font-size="13" text-anchor="middle">5.0</text>
<line x1="238.3" y1="1176.9" x2="238.3" y2="1186.9" stroke="#000" stroke-width="2.2"/>
<text transform="translate(238.3,1200.7) scale(1,1.035)" font-size="13" text-anchor="middle">10</text>
<line x1="262.7" y1="1176.9" x2="262.7" y2="1186.9" stroke="#000" stroke-width="2.2"/>
<text transform="translate(262.7,1200.7) scale(1,1.035)" font-size="13" text-anchor="middle">25</text>
<line x1="287" y1="1176.9" x2="287" y2="1186.9" stroke="#000" stroke-width="2.2"/>
<text transform="translate(287,1200.7) scale(1,1.035)" font-size="13" text-anchor="middle">50</text>
<line x1="311.1" y1="1176.9" x2="311.1" y2="1186.9" stroke="#000" stroke-width="2.2"/>
<text transform="translate(311.1,1200.7) scale(1,1.035)" font-size="13" text-anchor="middle">100</text>
<text transform="translate(323.8,1199.9) scale(1,1.035)" font-size="14.4">(μM)</text>
<line x1="110.2" y1="1205.6" x2="333.1" y2="1205.6" stroke="#000" stroke-width="1.4"/>
<text transform="translate(217.3,1219.1) scale(1,1.035)" font-size="14.5" text-anchor="middle">5-HPMF (48 h)</text>
<text x="238.5" y="1004.21" font-size="17.5" font-weight="normal" text-anchor="middle" stroke="#000" stroke-width="0.2">*</text>
<text x="262.9" y="981.18" font-size="17.5" font-weight="normal" text-anchor="middle" stroke="#000" stroke-width="0.2">*</text>
<text x="287.2" y="958.86" font-size="17.5" font-weight="normal" text-anchor="middle" stroke="#000" stroke-width="0.2">*</text>
<text x="311.3" y="925.52" font-size="17.5" font-weight="normal" text-anchor="middle" stroke="#000" stroke-width="0.2">*</text>
</g>
<g id="panel-J">
<text transform="translate(400.67,893.7) scale(1,1.054)" font-size="41.4">J</text>
<text x="632.7" y="906.4" font-size="22.8" font-weight="normal" text-anchor="middle" stroke="#000" stroke-width="0.9" stroke-linejoin="round" stroke-linecap="round">CNE-2</text>
<line x1="503" y1="902.7" x2="503" y2="1178" stroke="#000" stroke-width="2.1"/>
<line x1="492.9" y1="1176.95" x2="731.2" y2="1176.95" stroke="#000" stroke-width="2.1"/>
<text transform="translate(489.9,1183.31) scale(1,1.035)" font-size="17.3" text-anchor="end">0</text>
<line x1="492.9" y1="1085.88" x2="503" y2="1085.88" stroke="#000" stroke-width="2.1"/>
<text transform="translate(489.9,1092.24) scale(1,1.035)" font-size="17.3" text-anchor="end">20</text>
<line x1="492.9" y1="994.82" x2="503" y2="994.82" stroke="#000" stroke-width="2.1"/>
<text transform="translate(489.9,1001.17) scale(1,1.035)" font-size="17.3" text-anchor="end">40</text>
<line x1="492.9" y1="903.75" x2="503" y2="903.75" stroke="#000" stroke-width="2.1"/>
<text transform="translate(489.9,910.11) scale(1,1.035)" font-size="17.3" text-anchor="end">60</text>
<text transform="translate(458.4,1040.3) rotate(-90) scale(1,1.035)" font-size="19" text-anchor="middle">Inhibition rate (%)</text>
<line x1="520.9" y1="1168.44" x2="520.9" y2="1171.74" stroke="#0000ff" stroke-width="1.3"/>
<line x1="516.7" y1="1168.44" x2="525.1" y2="1168.44" stroke="#0000ff" stroke-width="1.3"/>
<rect x="511.85" y="1170.74" width="18.1" height="6.21" fill="#0000ff"/>
<line x1="548.1" y1="1154.83" x2="548.1" y2="1161.03" stroke="#ff0000" stroke-width="1.3"/>
<line x1="543.9" y1="1154.83" x2="552.3" y2="1154.83" stroke="#ff0000" stroke-width="1.3"/>
<rect x="539.05" y="1160.03" width="18.1" height="16.92" fill="#ff0000"/>
<line x1="575.3" y1="1133.8" x2="575.3" y2="1141.01" stroke="#00c000" stroke-width="1.3"/>
<line x1="571.1" y1="1133.8" x2="579.5" y2="1133.8" stroke="#00c000" stroke-width="1.3"/>
<rect x="566.25" y="1140.01" width="18.1" height="36.94" fill="#00c000"/>
<line x1="602.4" y1="1113.98" x2="602.4" y2="1122.49" stroke="#ad07e3" stroke-width="1.3"/>
<line x1="598.2" y1="1113.98" x2="606.6" y2="1113.98" stroke="#ad07e3" stroke-width="1.3"/>
<rect x="593.35" y="1121.49" width="18.1" height="55.46" fill="#ad07e3"/>
<line x1="629.6" y1="1097.56" x2="629.6" y2="1109.98" stroke="#ff8000" stroke-width="1.3"/>
<line x1="625.4" y1="1097.56" x2="633.8" y2="1097.56" stroke="#ff8000" stroke-width="1.3"/>
<rect x="620.55" y="1108.98" width="18.1" height="67.97" fill="#ff8000"/>
<line x1="656.8" y1="1070.63" x2="656.8" y2="1081.74" stroke="#000000" stroke-width="1.3"/>
<line x1="652.6" y1="1070.63" x2="661" y2="1070.63" stroke="#000000" stroke-width="1.3"/>
<rect x="647.75" y="1080.74" width="18.1" height="96.21" fill="#000000"/>
<line x1="683.9" y1="1038.3" x2="683.9" y2="1051.71" stroke="#94641f" stroke-width="1.3"/>
<line x1="679.7" y1="1038.3" x2="688.1" y2="1038.3" stroke="#94641f" stroke-width="1.3"/>
<rect x="674.85" y="1050.71" width="18.1" height="126.24" fill="#94641f"/>
<line x1="711.1" y1="958.61" x2="711.1" y2="974.53" stroke="#000080" stroke-width="1.3"/>
<line x1="706.9" y1="958.61" x2="715.3" y2="958.61" stroke="#000080" stroke-width="1.3"/>
<rect x="702.05" y="973.53" width="18.1" height="203.42" fill="#000080"/>
<line x1="492.9" y1="1176.95" x2="731.2" y2="1176.95" stroke="#000" stroke-width="2.1"/>
<line x1="520.9" y1="1176.95" x2="520.9" y2="1186.95" stroke="#000" stroke-width="2.2"/>
<text transform="translate(520.9,1200.7) scale(1,1.035)" font-size="13" text-anchor="middle">0.5</text>
<line x1="548.1" y1="1176.95" x2="548.1" y2="1186.95" stroke="#000" stroke-width="2.2"/>
<text transform="translate(548.1,1200.7) scale(1,1.035)" font-size="13" text-anchor="middle">1.0</text>
<line x1="575.3" y1="1176.95" x2="575.3" y2="1186.95" stroke="#000" stroke-width="2.2"/>
<text transform="translate(575.3,1200.7) scale(1,1.035)" font-size="13" text-anchor="middle">2.5</text>
<line x1="602.4" y1="1176.95" x2="602.4" y2="1186.95" stroke="#000" stroke-width="2.2"/>
<text transform="translate(602.4,1200.7) scale(1,1.035)" font-size="13" text-anchor="middle">5.0</text>
<line x1="629.6" y1="1176.95" x2="629.6" y2="1186.95" stroke="#000" stroke-width="2.2"/>
<text transform="translate(629.6,1200.7) scale(1,1.035)" font-size="13" text-anchor="middle">10</text>
<line x1="656.8" y1="1176.95" x2="656.8" y2="1186.95" stroke="#000" stroke-width="2.2"/>
<text transform="translate(656.8,1200.7) scale(1,1.035)" font-size="13" text-anchor="middle">25</text>
<line x1="683.9" y1="1176.95" x2="683.9" y2="1186.95" stroke="#000" stroke-width="2.2"/>
<text transform="translate(683.9,1200.7) scale(1,1.035)" font-size="13" text-anchor="middle">50</text>
<line x1="711.1" y1="1176.95" x2="711.1" y2="1186.95" stroke="#000" stroke-width="2.2"/>
<text transform="translate(711.1,1200.7) scale(1,1.035)" font-size="13" text-anchor="middle">100</text>
<text transform="translate(724.5,1199.9) scale(1,1.035)" font-size="14.4">(μM)</text>
<line x1="508.9" y1="1206.8" x2="733.1" y2="1206.8" stroke="#000" stroke-width="1.4"/>
<text transform="translate(615.8,1221.7) scale(1,1.035)" font-size="14.5" text-anchor="middle">5-HPMF (48 h)</text>
<text x="657" y="1075.93" font-size="22" font-weight="normal" text-anchor="middle" stroke="#000" stroke-width="0.45">*</text>
<text x="684.1" y="1042.43" font-size="22" font-weight="normal" text-anchor="middle" stroke="#000" stroke-width="0.45">*</text>
<text x="711.3" y="962.33" font-size="22" font-weight="normal" text-anchor="middle" stroke="#000" stroke-width="0.45">*</text>
</g>
<g id="panel-K">
<text transform="translate(817.73,893.7) scale(1,1.054)" font-size="41.4">K</text>
<text x="1027.3" y="907.7" font-size="22.8" font-weight="normal" text-anchor="middle" stroke="#000" stroke-width="0.9" stroke-linejoin="round" stroke-linecap="round">5-8F</text>
<line x1="896.6" y1="903.85" x2="896.6" y2="1179.15" stroke="#000" stroke-width="2.1"/>
<line x1="886.5" y1="1178.1" x2="1124.1" y2="1178.1" stroke="#000" stroke-width="2.1"/>
<text transform="translate(883.5,1184.46) scale(1,1.035)" font-size="17.3" text-anchor="end">0</text>
<line x1="886.5" y1="1109.8" x2="896.6" y2="1109.8" stroke="#000" stroke-width="2.1"/>
<text transform="translate(883.5,1116.16) scale(1,1.035)" font-size="17.3" text-anchor="end">20</text>
<line x1="886.5" y1="1041.5" x2="896.6" y2="1041.5" stroke="#000" stroke-width="2.1"/>
<text transform="translate(883.5,1047.86) scale(1,1.035)" font-size="17.3" text-anchor="end">40</text>
<line x1="886.5" y1="973.2" x2="896.6" y2="973.2" stroke="#000" stroke-width="2.1"/>
<text transform="translate(883.5,979.56) scale(1,1.035)" font-size="17.3" text-anchor="end">60</text>
<line x1="886.5" y1="904.9" x2="896.6" y2="904.9" stroke="#000" stroke-width="2.1"/>
<text transform="translate(883.5,911.26) scale(1,1.035)" font-size="17.3" text-anchor="end">80</text>
<text transform="translate(852.5,1041.1) rotate(-90) scale(1,1.035)" font-size="19" text-anchor="middle">Inhibition rate (%)</text>
<line x1="912.5" y1="1168.59" x2="912.5" y2="1172.29" stroke="#0000ff" stroke-width="1.3"/>
<line x1="908.3" y1="1168.59" x2="916.7" y2="1168.59" stroke="#0000ff" stroke-width="1.3"/>
<rect x="904.3" y="1171.29" width="16.4" height="6.81" fill="#0000ff"/>
<line x1="936.8" y1="1149.37" x2="936.8" y2="1152.87" stroke="#ff0000" stroke-width="1.3"/>
<line x1="932.6" y1="1149.37" x2="941" y2="1149.37" stroke="#ff0000" stroke-width="1.3"/>
<rect x="928.6" y="1151.87" width="16.4" height="26.23" fill="#ff0000"/>
<line x1="961.2" y1="1149.37" x2="961.2" y2="1153.87" stroke="#00c000" stroke-width="1.3"/>
<line x1="957" y1="1149.37" x2="965.4" y2="1149.37" stroke="#00c000" stroke-width="1.3"/>
<rect x="953" y="1152.87" width="16.4" height="25.23" fill="#00c000"/>
<line x1="985.3" y1="1117.53" x2="985.3" y2="1124.34" stroke="#ad07e3" stroke-width="1.3"/>
<line x1="981.1" y1="1117.53" x2="989.5" y2="1117.53" stroke="#ad07e3" stroke-width="1.3"/>
<rect x="977.1" y="1123.34" width="16.4" height="54.76" fill="#ad07e3"/>
<line x1="1009.6" y1="1089.3" x2="1009.6" y2="1096.11" stroke="#ff8000" stroke-width="1.3"/>
<line x1="1005.4" y1="1089.3" x2="1013.8" y2="1089.3" stroke="#ff8000" stroke-width="1.3"/>
<rect x="1001.4" y="1095.11" width="16.4" height="82.99" fill="#ff8000"/>
<line x1="1033.9" y1="1077.29" x2="1033.9" y2="1083.8" stroke="#000000" stroke-width="1.3"/>
<line x1="1029.7" y1="1077.29" x2="1038.1" y2="1077.29" stroke="#000000" stroke-width="1.3"/>
<rect x="1025.7" y="1082.8" width="16.4" height="95.3" fill="#000000"/>
<line x1="1058.3" y1="1037.55" x2="1058.3" y2="1043.85" stroke="#94641f" stroke-width="1.3"/>
<line x1="1054.1" y1="1037.55" x2="1062.5" y2="1037.55" stroke="#94641f" stroke-width="1.3"/>
<rect x="1050.1" y="1042.85" width="16.4" height="135.25" fill="#94641f"/>
<line x1="1082.4" y1="1018.02" x2="1082.4" y2="1026.63" stroke="#000080" stroke-width="1.3"/>
<line x1="1078.2" y1="1018.02" x2="1086.6" y2="1018.02" stroke="#000080" stroke-width="1.3"/>
<rect x="1074.2" y="1025.63" width="16.4" height="152.47" fill="#000080"/>
<line x1="1106.7" y1="976.68" x2="1106.7" y2="984.09" stroke="#60004f" stroke-width="1.3"/>
<line x1="1102.5" y1="976.68" x2="1110.9" y2="976.68" stroke="#60004f" stroke-width="1.3"/>
<rect x="1098.5" y="983.09" width="16.4" height="195.01" fill="#60004f"/>
<line x1="886.5" y1="1178.1" x2="1124.1" y2="1178.1" stroke="#000" stroke-width="2.1"/>
<line x1="912.5" y1="1178.1" x2="912.5" y2="1188.1" stroke="#000" stroke-width="2.2"/>
<text transform="translate(912.5,1202) scale(1,1.035)" font-size="13" text-anchor="middle">0</text>
<line x1="936.8" y1="1178.1" x2="936.8" y2="1188.1" stroke="#000" stroke-width="2.2"/>
<text transform="translate(936.8,1202) scale(1,1.035)" font-size="13" text-anchor="middle">0.5</text>
<line x1="961.2" y1="1178.1" x2="961.2" y2="1188.1" stroke="#000" stroke-width="2.2"/>
<text transform="translate(961.2,1202) scale(1,1.035)" font-size="13" text-anchor="middle">1.0</text>
<line x1="985.3" y1="1178.1" x2="985.3" y2="1188.1" stroke="#000" stroke-width="2.2"/>
<text transform="translate(985.3,1202) scale(1,1.035)" font-size="13" text-anchor="middle">2.5</text>
<line x1="1009.6" y1="1178.1" x2="1009.6" y2="1188.1" stroke="#000" stroke-width="2.2"/>
<text transform="translate(1009.6,1202) scale(1,1.035)" font-size="13" text-anchor="middle">5.0</text>
<line x1="1033.9" y1="1178.1" x2="1033.9" y2="1188.1" stroke="#000" stroke-width="2.2"/>
<text transform="translate(1033.9,1202) scale(1,1.035)" font-size="13" text-anchor="middle">10</text>
<line x1="1058.3" y1="1178.1" x2="1058.3" y2="1188.1" stroke="#000" stroke-width="2.2"/>
<text transform="translate(1058.3,1202) scale(1,1.035)" font-size="13" text-anchor="middle">25</text>
<line x1="1082.4" y1="1178.1" x2="1082.4" y2="1188.1" stroke="#000" stroke-width="2.2"/>
<text transform="translate(1082.4,1202) scale(1,1.035)" font-size="13" text-anchor="middle">50</text>
<line x1="1106.7" y1="1178.1" x2="1106.7" y2="1188.1" stroke="#000" stroke-width="2.2"/>
<text transform="translate(1106.7,1202) scale(1,1.035)" font-size="13" text-anchor="middle">100</text>
<text transform="translate(1119.1,1201.2) scale(1,1.035)" font-size="14.4">(μM)</text>
<line x1="904.8" y1="1208.1" x2="1138" y2="1208.1" stroke="#000" stroke-width="1.4"/>
<text transform="translate(1015.7,1222.2) scale(1,1.035)" font-size="14.5" text-anchor="middle">TGN (48 h)</text>
<text x="1058.5" y="1040.45" font-size="17.5" font-weight="normal" text-anchor="middle" stroke="#000" stroke-width="0.2">*</text>
<text x="1082.6" y="1018.62" font-size="17.5" font-weight="normal" text-anchor="middle" stroke="#000" stroke-width="0.2">*</text>
<text x="1106.9" y="978.58" font-size="17.5" font-weight="normal" text-anchor="middle" stroke="#000" stroke-width="0.2">*</text>
</g>
<g id="panel-L">
<text transform="translate(1183.33,894.5) scale(1,1.054)" font-size="41.4">L</text>
<text x="1434.4" y="909.5" font-size="22.8" font-weight="normal" text-anchor="middle" stroke="#000" stroke-width="0.9" stroke-linejoin="round" stroke-linecap="round">CNE-2</text>
<line x1="1305.4" y1="906.95" x2="1305.4" y2="1181.75" stroke="#000" stroke-width="2.1"/>
<line x1="1295.4" y1="1180.7" x2="1533.3" y2="1180.7" stroke="#000" stroke-width="2.1"/>
<text transform="translate(1292.4,1187.06) scale(1,1.035)" font-size="17.3" text-anchor="end">0</text>
<line x1="1295.4" y1="1089.8" x2="1305.4" y2="1089.8" stroke="#000" stroke-width="2.1"/>
<text transform="translate(1292.4,1096.16) scale(1,1.035)" font-size="17.3" text-anchor="end">20</text>
<line x1="1295.4" y1="998.9" x2="1305.4" y2="998.9" stroke="#000" stroke-width="2.1"/>
<text transform="translate(1292.4,1005.26) scale(1,1.035)" font-size="17.3" text-anchor="end">40</text>
<line x1="1295.4" y1="908" x2="1305.4" y2="908" stroke="#000" stroke-width="2.1"/>
<text transform="translate(1292.4,914.36) scale(1,1.035)" font-size="17.3" text-anchor="end">60</text>
<text transform="translate(1260.9,1044.1) rotate(-90) scale(1,1.035)" font-size="19" text-anchor="middle">Inhibition rate (%)</text>
<line x1="1323.2" y1="1169.69" x2="1323.2" y2="1173.14" stroke="#0000ff" stroke-width="1.3"/>
<line x1="1319" y1="1169.69" x2="1327.4" y2="1169.69" stroke="#0000ff" stroke-width="1.3"/>
<rect x="1314.1" y="1172.14" width="18.2" height="8.56" fill="#0000ff"/>
<line x1="1350.4" y1="1134.35" x2="1350.4" y2="1142.41" stroke="#ff0000" stroke-width="1.3"/>
<line x1="1346.2" y1="1134.35" x2="1354.6" y2="1134.35" stroke="#ff0000" stroke-width="1.3"/>
<rect x="1341.3" y="1141.41" width="18.2" height="39.29" fill="#ff0000"/>
<line x1="1377.5" y1="1102.81" x2="1377.5" y2="1108.97" stroke="#00c000" stroke-width="1.3"/>
<line x1="1373.3" y1="1102.81" x2="1381.7" y2="1102.81" stroke="#00c000" stroke-width="1.3"/>
<rect x="1368.4" y="1107.97" width="18.2" height="72.73" fill="#00c000"/>
<line x1="1404.7" y1="1069.68" x2="1404.7" y2="1076.94" stroke="#ad07e3" stroke-width="1.3"/>
<line x1="1400.5" y1="1069.68" x2="1408.9" y2="1069.68" stroke="#ad07e3" stroke-width="1.3"/>
<rect x="1395.6" y="1075.94" width="18.2" height="104.76" fill="#ad07e3"/>
<line x1="1431.9" y1="1053.76" x2="1431.9" y2="1063.82" stroke="#ff8000" stroke-width="1.3"/>
<line x1="1427.7" y1="1053.76" x2="1436.1" y2="1053.76" stroke="#ff8000" stroke-width="1.3"/>
<rect x="1422.8" y="1062.82" width="18.2" height="117.88" fill="#ff8000"/>
<line x1="1459" y1="1039.44" x2="1459" y2="1050.51" stroke="#000000" stroke-width="1.3"/>
<line x1="1454.8" y1="1039.44" x2="1463.2" y2="1039.44" stroke="#000000" stroke-width="1.3"/>
<rect x="1449.9" y="1049.51" width="18.2" height="131.19" fill="#000000"/>
<line x1="1486.2" y1="1012.52" x2="1486.2" y2="1022.27" stroke="#94641f" stroke-width="1.3"/>
<line x1="1482" y1="1012.52" x2="1490.4" y2="1012.52" stroke="#94641f" stroke-width="1.3"/>
<rect x="1477.1" y="1021.27" width="18.2" height="159.43" fill="#94641f"/>
<line x1="1513.3" y1="942.74" x2="1513.3" y2="954.1" stroke="#000080" stroke-width="1.3"/>
<line x1="1509.1" y1="942.74" x2="1517.5" y2="942.74" stroke="#000080" stroke-width="1.3"/>
<rect x="1504.2" y="953.1" width="18.2" height="227.6" fill="#000080"/>
<line x1="1295.4" y1="1180.7" x2="1533.3" y2="1180.7" stroke="#000" stroke-width="2.1"/>
<line x1="1323.2" y1="1180.7" x2="1323.2" y2="1190.7" stroke="#000" stroke-width="2.2"/>
<text transform="translate(1323.2,1205.1) scale(1,1.035)" font-size="13" text-anchor="middle">0.5</text>
<line x1="1350.4" y1="1180.7" x2="1350.4" y2="1190.7" stroke="#000" stroke-width="2.2"/>
<text transform="translate(1350.4,1205.1) scale(1,1.035)" font-size="13" text-anchor="middle">1.0</text>
<line x1="1377.5" y1="1180.7" x2="1377.5" y2="1190.7" stroke="#000" stroke-width="2.2"/>
<text transform="translate(1377.5,1205.1) scale(1,1.035)" font-size="13" text-anchor="middle">2.5</text>
<line x1="1404.7" y1="1180.7" x2="1404.7" y2="1190.7" stroke="#000" stroke-width="2.2"/>
<text transform="translate(1404.7,1205.1) scale(1,1.035)" font-size="13" text-anchor="middle">5.0</text>
<line x1="1431.9" y1="1180.7" x2="1431.9" y2="1190.7" stroke="#000" stroke-width="2.2"/>
<text transform="translate(1431.9,1205.1) scale(1,1.035)" font-size="13" text-anchor="middle">10</text>
<line x1="1459" y1="1180.7" x2="1459" y2="1190.7" stroke="#000" stroke-width="2.2"/>
<text transform="translate(1459,1205.1) scale(1,1.035)" font-size="13" text-anchor="middle">25</text>
<line x1="1486.2" y1="1180.7" x2="1486.2" y2="1190.7" stroke="#000" stroke-width="2.2"/>
<text transform="translate(1486.2,1205.1) scale(1,1.035)" font-size="13" text-anchor="middle">50</text>
<line x1="1513.3" y1="1180.7" x2="1513.3" y2="1190.7" stroke="#000" stroke-width="2.2"/>
<text transform="translate(1513.3,1205.1) scale(1,1.035)" font-size="13" text-anchor="middle">100</text>
<text transform="translate(1526.5,1203.8) scale(1,1.035)" font-size="14.4">(μM)</text>
<line x1="1310.9" y1="1210.7" x2="1546.1" y2="1210.7" stroke="#000" stroke-width="1.4"/>
<text transform="translate(1421.1,1224.8) scale(1,1.035)" font-size="14.5" text-anchor="middle">TGN (48 h)</text>
<text x="1459.2" y="1043.45" font-size="17.5" font-weight="normal" text-anchor="middle" stroke="#000" stroke-width="0.2">*</text>
<text x="1486.4" y="1016.02" font-size="17.5" font-weight="normal" text-anchor="middle" stroke="#000" stroke-width="0.2">*</text>
<text x="1513.5" y="945.54" font-size="17.5" font-weight="normal" text-anchor="middle" stroke="#000" stroke-width="0.2">*</text>
</g>
<g id="panel-M">
<text transform="translate(-0.17,1275.1) scale(1,1.054)" font-size="41.4">M</text>
<text x="209.4" y="1277.3" font-size="22.8" font-weight="normal" text-anchor="middle" stroke="#000" stroke-width="0.9" stroke-linejoin="round" stroke-linecap="round">5-8F</text>
<line x1="112.7" y1="1279.35" x2="112.7" y2="1553.85" stroke="#000" stroke-width="2.1"/>
<line x1="102.4" y1="1552.8" x2="340.8" y2="1552.8" stroke="#000" stroke-width="2.1"/>
<text transform="translate(99.4,1559.16) scale(1,1.035)" font-size="17.3" text-anchor="end">0</text>
<line x1="102.4" y1="1498.32" x2="112.7" y2="1498.32" stroke="#000" stroke-width="2.1"/>
<text transform="translate(99.4,1504.68) scale(1,1.035)" font-size="17.3" text-anchor="end">20</text>
<line x1="102.4" y1="1443.84" x2="112.7" y2="1443.84" stroke="#000" stroke-width="2.1"/>
<text transform="translate(99.4,1450.2) scale(1,1.035)" font-size="17.3" text-anchor="end">40</text>
<line x1="102.4" y1="1389.36" x2="112.7" y2="1389.36" stroke="#000" stroke-width="2.1"/>
<text transform="translate(99.4,1395.72) scale(1,1.035)" font-size="17.3" text-anchor="end">60</text>
<line x1="102.4" y1="1334.88" x2="112.7" y2="1334.88" stroke="#000" stroke-width="2.1"/>
<text transform="translate(99.4,1341.24) scale(1,1.035)" font-size="17.3" text-anchor="end">80</text>
<line x1="102.4" y1="1280.4" x2="112.7" y2="1280.4" stroke="#000" stroke-width="2.1"/>
<text transform="translate(99.4,1286.76) scale(1,1.035)" font-size="17.3" text-anchor="end">100</text>
<text transform="translate(59.7,1416.8) rotate(-90) scale(1,1.035)" font-size="19" text-anchor="middle">Inhibition rate (%)</text>
<line x1="128.6" y1="1547.79" x2="128.6" y2="1550.45" stroke="#0000ff" stroke-width="1.3"/>
<line x1="124.4" y1="1547.79" x2="132.8" y2="1547.79" stroke="#0000ff" stroke-width="1.3"/>
<rect x="120.4" y="1549.45" width="16.4" height="3.35" fill="#0000ff"/>
<line x1="153" y1="1546.99" x2="153" y2="1549.15" stroke="#ff0000" stroke-width="1.3"/>
<line x1="148.8" y1="1546.99" x2="157.2" y2="1546.99" stroke="#ff0000" stroke-width="1.3"/>
<rect x="144.8" y="1548.15" width="16.4" height="4.65" fill="#ff0000"/>
<line x1="177.3" y1="1539.09" x2="177.3" y2="1543.24" stroke="#00c000" stroke-width="1.3"/>
<line x1="173.1" y1="1539.09" x2="181.5" y2="1539.09" stroke="#00c000" stroke-width="1.3"/>
<rect x="169.1" y="1542.24" width="16.4" height="10.56" fill="#00c000"/>
<line x1="201.4" y1="1530.58" x2="201.4" y2="1535.03" stroke="#ad07e3" stroke-width="1.3"/>
<line x1="197.2" y1="1530.58" x2="205.6" y2="1530.58" stroke="#ad07e3" stroke-width="1.3"/>
<rect x="193.2" y="1534.03" width="16.4" height="18.77" fill="#ad07e3"/>
<line x1="225.8" y1="1502.85" x2="225.8" y2="1508.6" stroke="#ff8000" stroke-width="1.3"/>
<line x1="221.6" y1="1502.85" x2="230" y2="1502.85" stroke="#ff8000" stroke-width="1.3"/>
<rect x="217.6" y="1507.6" width="16.4" height="45.2" fill="#ff8000"/>
<line x1="250.1" y1="1470.81" x2="250.1" y2="1480.37" stroke="#000000" stroke-width="1.3"/>
<line x1="245.9" y1="1470.81" x2="254.3" y2="1470.81" stroke="#000000" stroke-width="1.3"/>
<rect x="241.9" y="1479.37" width="16.4" height="73.43" fill="#000000"/>
<line x1="274.4" y1="1445.38" x2="274.4" y2="1450.34" stroke="#94641f" stroke-width="1.3"/>
<line x1="270.2" y1="1445.38" x2="278.6" y2="1445.38" stroke="#94641f" stroke-width="1.3"/>
<rect x="266.2" y="1449.34" width="16.4" height="103.46" fill="#94641f"/>
<line x1="298.5" y1="1384.31" x2="298.5" y2="1390.57" stroke="#000080" stroke-width="1.3"/>
<line x1="294.3" y1="1384.31" x2="302.7" y2="1384.31" stroke="#000080" stroke-width="1.3"/>
<rect x="290.3" y="1389.57" width="16.4" height="163.23" fill="#000080"/>
<line x1="322.9" y1="1337.16" x2="322.9" y2="1347.02" stroke="#60004f" stroke-width="1.3"/>
<line x1="318.7" y1="1337.16" x2="327.1" y2="1337.16" stroke="#60004f" stroke-width="1.3"/>
<rect x="314.7" y="1346.02" width="16.4" height="206.78" fill="#60004f"/>
<line x1="102.4" y1="1552.8" x2="340.8" y2="1552.8" stroke="#000" stroke-width="2.1"/>
<line x1="128.6" y1="1552.8" x2="128.6" y2="1562.8" stroke="#000" stroke-width="2.2"/>
<text transform="translate(128.6,1577.2) scale(1,1.035)" font-size="13" text-anchor="middle">0</text>
<line x1="153" y1="1552.8" x2="153" y2="1562.8" stroke="#000" stroke-width="2.2"/>
<text transform="translate(153,1577.2) scale(1,1.035)" font-size="13" text-anchor="middle">0.5</text>
<line x1="177.3" y1="1552.8" x2="177.3" y2="1562.8" stroke="#000" stroke-width="2.2"/>
<text transform="translate(177.3,1577.2) scale(1,1.035)" font-size="13" text-anchor="middle">1</text>
<line x1="201.4" y1="1552.8" x2="201.4" y2="1562.8" stroke="#000" stroke-width="2.2"/>
<text transform="translate(201.4,1577.2) scale(1,1.035)" font-size="13" text-anchor="middle">2.5</text>
<line x1="225.8" y1="1552.8" x2="225.8" y2="1562.8" stroke="#000" stroke-width="2.2"/>
<text transform="translate(225.8,1577.2) scale(1,1.035)" font-size="13" text-anchor="middle">5</text>
<line x1="250.1" y1="1552.8" x2="250.1" y2="1562.8" stroke="#000" stroke-width="2.2"/>
<text transform="translate(250.1,1577.2) scale(1,1.035)" font-size="13" text-anchor="middle">10</text>
<line x1="274.4" y1="1552.8" x2="274.4" y2="1562.8" stroke="#000" stroke-width="2.2"/>
<text transform="translate(274.4,1577.2) scale(1,1.035)" font-size="13" text-anchor="middle">25</text>
<line x1="298.5" y1="1552.8" x2="298.5" y2="1562.8" stroke="#000" stroke-width="2.2"/>
<text transform="translate(298.5,1577.2) scale(1,1.035)" font-size="13" text-anchor="middle">50</text>
<line x1="322.9" y1="1552.8" x2="322.9" y2="1562.8" stroke="#000" stroke-width="2.2"/>
<text transform="translate(322.9,1577.2) scale(1,1.035)" font-size="13" text-anchor="middle">100</text>
<text transform="translate(334.1,1575.9) scale(1,1.035)" font-size="14.4">(μM)</text>
<line x1="120.4" y1="1582.8" x2="342.1" y2="1582.8" stroke="#000" stroke-width="1.4"/>
<text transform="translate(229.3,1599) scale(1,1.035)" font-size="14.5" text-anchor="middle">NOB (48 h)</text>
<text x="226" y="1506.65" font-size="17.5" font-weight="normal" text-anchor="middle" stroke="#000" stroke-width="0.2">*</text>
<text x="250.3" y="1474.61" font-size="17.5" font-weight="normal" text-anchor="middle" stroke="#000" stroke-width="0.2">*</text>
<text x="274.6" y="1448.18" font-size="17.5" font-weight="normal" text-anchor="middle" stroke="#000" stroke-width="0.2">*</text>
<text x="298.7" y="1387.92" font-size="17.5" font-weight="normal" text-anchor="middle" stroke="#000" stroke-width="0.2">*</text>
<text x="323.1" y="1340.67" font-size="17.5" font-weight="normal" text-anchor="middle" stroke="#000" stroke-width="0.2">*</text>
</g>
<g id="panel-N">
<text transform="translate(398.03,1275.1) scale(1,1.054)" font-size="41.4">N</text>
<text x="625.5" y="1276.5" font-size="22.8" font-weight="normal" text-anchor="middle" stroke="#000" stroke-width="0.9" stroke-linejoin="round" stroke-linecap="round">CNE-2</text>
<line x1="502.5" y1="1279.35" x2="502.5" y2="1553.85" stroke="#000" stroke-width="2.1"/>
<line x1="492.2" y1="1552.8" x2="729.8" y2="1552.8" stroke="#000" stroke-width="2.1"/>
<text transform="translate(489.2,1559.16) scale(1,1.035)" font-size="17.3" text-anchor="end">0</text>
<line x1="492.2" y1="1498.32" x2="502.5" y2="1498.32" stroke="#000" stroke-width="2.1"/>
<text transform="translate(489.2,1504.68) scale(1,1.035)" font-size="17.3" text-anchor="end">20</text>
<line x1="492.2" y1="1443.84" x2="502.5" y2="1443.84" stroke="#000" stroke-width="2.1"/>
<text transform="translate(489.2,1450.2) scale(1,1.035)" font-size="17.3" text-anchor="end">40</text>
<line x1="492.2" y1="1389.36" x2="502.5" y2="1389.36" stroke="#000" stroke-width="2.1"/>
<text transform="translate(489.2,1395.72) scale(1,1.035)" font-size="17.3" text-anchor="end">60</text>
<line x1="492.2" y1="1334.88" x2="502.5" y2="1334.88" stroke="#000" stroke-width="2.1"/>
<text transform="translate(489.2,1341.24) scale(1,1.035)" font-size="17.3" text-anchor="end">80</text>
<line x1="492.2" y1="1280.4" x2="502.5" y2="1280.4" stroke="#000" stroke-width="2.1"/>
<text transform="translate(489.2,1286.76) scale(1,1.035)" font-size="17.3" text-anchor="end">100</text>
<text transform="translate(449.2,1416.8) rotate(-90) scale(1,1.035)" font-size="19" text-anchor="middle">Inhibition rate (%)</text>
<line x1="517.9" y1="1546.69" x2="517.9" y2="1549.85" stroke="#0000ff" stroke-width="1.3"/>
<line x1="513.7" y1="1546.69" x2="522.1" y2="1546.69" stroke="#0000ff" stroke-width="1.3"/>
<rect x="509.7" y="1548.85" width="16.4" height="3.95" fill="#0000ff"/>
<line x1="542.2" y1="1537.48" x2="542.2" y2="1540.44" stroke="#ff0000" stroke-width="1.3"/>
<line x1="538" y1="1537.48" x2="546.4" y2="1537.48" stroke="#ff0000" stroke-width="1.3"/>
<rect x="534" y="1539.44" width="16.4" height="13.36" fill="#ff0000"/>
<line x1="566.6" y1="1520.87" x2="566.6" y2="1526.82" stroke="#00c000" stroke-width="1.3"/>
<line x1="562.4" y1="1520.87" x2="570.8" y2="1520.87" stroke="#00c000" stroke-width="1.3"/>
<rect x="558.4" y="1525.82" width="16.4" height="26.98" fill="#00c000"/>
<line x1="590.9" y1="1513.16" x2="590.9" y2="1518.61" stroke="#ad07e3" stroke-width="1.3"/>
<line x1="586.7" y1="1513.16" x2="595.1" y2="1513.16" stroke="#ad07e3" stroke-width="1.3"/>
<rect x="582.7" y="1517.61" width="16.4" height="35.19" fill="#ad07e3"/>
<line x1="615" y1="1494.64" x2="615" y2="1502.19" stroke="#ff8000" stroke-width="1.3"/>
<line x1="610.8" y1="1494.64" x2="619.2" y2="1494.64" stroke="#ff8000" stroke-width="1.3"/>
<rect x="606.8" y="1501.19" width="16.4" height="51.61" fill="#ff8000"/>
<line x1="639.3" y1="1476.92" x2="639.3" y2="1482.47" stroke="#000000" stroke-width="1.3"/>
<line x1="635.1" y1="1476.92" x2="643.5" y2="1476.92" stroke="#000000" stroke-width="1.3"/>
<rect x="631.1" y="1481.47" width="16.4" height="71.33" fill="#000000"/>
<line x1="663.7" y1="1420.55" x2="663.7" y2="1429.11" stroke="#94641f" stroke-width="1.3"/>
<line x1="659.5" y1="1420.55" x2="667.9" y2="1420.55" stroke="#94641f" stroke-width="1.3"/>
<rect x="655.5" y="1428.11" width="16.4" height="124.69" fill="#94641f"/>
<line x1="687.8" y1="1379.71" x2="687.8" y2="1388.27" stroke="#000080" stroke-width="1.3"/>
<line x1="683.6" y1="1379.71" x2="692" y2="1379.71" stroke="#000080" stroke-width="1.3"/>
<rect x="679.6" y="1387.27" width="16.4" height="165.53" fill="#000080"/>
<line x1="712.1" y1="1319.14" x2="712.1" y2="1325.2" stroke="#60004f" stroke-width="1.3"/>
<line x1="707.9" y1="1319.14" x2="716.3" y2="1319.14" stroke="#60004f" stroke-width="1.3"/>
<rect x="703.9" y="1324.2" width="16.4" height="228.6" fill="#60004f"/>
<line x1="492.2" y1="1552.8" x2="729.8" y2="1552.8" stroke="#000" stroke-width="2.1"/>
<line x1="517.9" y1="1552.8" x2="517.9" y2="1562.8" stroke="#000" stroke-width="2.2"/>
<text transform="translate(517.9,1577.2) scale(1,1.035)" font-size="13" text-anchor="middle">0</text>
<line x1="542.2" y1="1552.8" x2="542.2" y2="1562.8" stroke="#000" stroke-width="2.2"/>
<text transform="translate(542.2,1577.2) scale(1,1.035)" font-size="13" text-anchor="middle">0.5</text>
<line x1="566.6" y1="1552.8" x2="566.6" y2="1562.8" stroke="#000" stroke-width="2.2"/>
<text transform="translate(566.6,1577.2) scale(1,1.035)" font-size="13" text-anchor="middle">1.0</text>
<line x1="590.9" y1="1552.8" x2="590.9" y2="1562.8" stroke="#000" stroke-width="2.2"/>
<text transform="translate(590.9,1577.2) scale(1,1.035)" font-size="13" text-anchor="middle">2.5</text>
<line x1="615" y1="1552.8" x2="615" y2="1562.8" stroke="#000" stroke-width="2.2"/>
<text transform="translate(615,1577.2) scale(1,1.035)" font-size="13" text-anchor="middle">5.0</text>
<line x1="639.3" y1="1552.8" x2="639.3" y2="1562.8" stroke="#000" stroke-width="2.2"/>
<text transform="translate(639.3,1577.2) scale(1,1.035)" font-size="13" text-anchor="middle">10</text>
<line x1="663.7" y1="1552.8" x2="663.7" y2="1562.8" stroke="#000" stroke-width="2.2"/>
<text transform="translate(663.7,1577.2) scale(1,1.035)" font-size="13" text-anchor="middle">25</text>
<line x1="687.8" y1="1552.8" x2="687.8" y2="1562.8" stroke="#000" stroke-width="2.2"/>
<text transform="translate(687.8,1577.2) scale(1,1.035)" font-size="13" text-anchor="middle">50</text>
<line x1="712.1" y1="1552.8" x2="712.1" y2="1562.8" stroke="#000" stroke-width="2.2"/>
<text transform="translate(712.1,1577.2) scale(1,1.035)" font-size="13" text-anchor="middle">100</text>
<text transform="translate(724.5,1575.9) scale(1,1.035)" font-size="14.4">(μM)</text>
<line x1="511" y1="1583.6" x2="736.2" y2="1583.6" stroke="#000" stroke-width="1.4"/>
<text transform="translate(620.9,1598.2) scale(1,1.035)" font-size="14.5" text-anchor="middle">NOB (48 h)</text>
<text x="591.1" y="1517.76" font-size="17.5" font-weight="normal" text-anchor="middle" stroke="#000" stroke-width="0.2">*</text>
<text x="615.2" y="1497.74" font-size="17.5" font-weight="normal" text-anchor="middle" stroke="#000" stroke-width="0.2">*</text>
<text x="639.5" y="1480.22" font-size="17.5" font-weight="normal" text-anchor="middle" stroke="#000" stroke-width="0.2">*</text>
<text x="663.9" y="1422.76" font-size="17.5" font-weight="normal" text-anchor="middle" stroke="#000" stroke-width="0.2">*</text>
<text x="688" y="1383.51" font-size="17.5" font-weight="normal" text-anchor="middle" stroke="#000" stroke-width="0.2">*</text>
<text x="712.3" y="1321.45" font-size="17.5" font-weight="normal" text-anchor="middle" stroke="#000" stroke-width="0.2">*</text>
</g>
<g id="panel-O">
<text transform="translate(817.2,1275.1) scale(1,1.054)" font-size="41.4">O</text>
<text x="1019.6" y="1276.8" font-size="22.8" font-weight="normal" text-anchor="middle" stroke="#000" stroke-width="0.9" stroke-linejoin="round" stroke-linecap="round">5-8F</text>
<line x1="906.6" y1="1281.15" x2="906.6" y2="1555.95" stroke="#000" stroke-width="2.1"/>
<line x1="896.5" y1="1554.9" x2="1134.4" y2="1554.9" stroke="#000" stroke-width="2.1"/>
<text transform="translate(893.5,1561.26) scale(1,1.035)" font-size="17.3" text-anchor="end">0</text>
<line x1="896.5" y1="1500.36" x2="906.6" y2="1500.36" stroke="#000" stroke-width="2.1"/>
<text transform="translate(893.5,1506.72) scale(1,1.035)" font-size="17.3" text-anchor="end">20</text>
<line x1="896.5" y1="1445.82" x2="906.6" y2="1445.82" stroke="#000" stroke-width="2.1"/>
<text transform="translate(893.5,1452.18) scale(1,1.035)" font-size="17.3" text-anchor="end">40</text>
<line x1="896.5" y1="1391.28" x2="906.6" y2="1391.28" stroke="#000" stroke-width="2.1"/>
<text transform="translate(893.5,1397.64) scale(1,1.035)" font-size="17.3" text-anchor="end">60</text>
<line x1="896.5" y1="1336.74" x2="906.6" y2="1336.74" stroke="#000" stroke-width="2.1"/>
<text transform="translate(893.5,1343.1) scale(1,1.035)" font-size="17.3" text-anchor="end">80</text>
<line x1="896.5" y1="1282.2" x2="906.6" y2="1282.2" stroke="#000" stroke-width="2.1"/>
<text transform="translate(893.5,1288.56) scale(1,1.035)" font-size="17.3" text-anchor="end">100</text>
<text transform="translate(853.8,1418.8) rotate(-90) scale(1,1.035)" font-size="19" text-anchor="middle">Inhibition rate (%)</text>
<line x1="922.5" y1="1550.09" x2="922.5" y2="1552.95" stroke="#0000ff" stroke-width="1.3"/>
<line x1="918.3" y1="1550.09" x2="926.7" y2="1550.09" stroke="#0000ff" stroke-width="1.3"/>
<rect x="914.3" y="1551.95" width="16.4" height="2.95" fill="#0000ff"/>
<line x1="946.8" y1="1540.28" x2="946.8" y2="1545.04" stroke="#ff0000" stroke-width="1.3"/>
<line x1="942.6" y1="1540.28" x2="951" y2="1540.28" stroke="#ff0000" stroke-width="1.3"/>
<rect x="938.6" y="1544.04" width="16.4" height="10.86" fill="#ff0000"/>
<line x1="970.9" y1="1529.77" x2="970.9" y2="1534.73" stroke="#00c000" stroke-width="1.3"/>
<line x1="966.7" y1="1529.77" x2="975.1" y2="1529.77" stroke="#00c000" stroke-width="1.3"/>
<rect x="962.7" y="1533.73" width="16.4" height="21.17" fill="#00c000"/>
<line x1="995.2" y1="1519.76" x2="995.2" y2="1525.02" stroke="#ad07e3" stroke-width="1.3"/>
<line x1="991" y1="1519.76" x2="999.4" y2="1519.76" stroke="#ad07e3" stroke-width="1.3"/>
<rect x="987" y="1524.02" width="16.4" height="30.88" fill="#ad07e3"/>
<line x1="1019.6" y1="1478.52" x2="1019.6" y2="1484.17" stroke="#ff8000" stroke-width="1.3"/>
<line x1="1015.4" y1="1478.52" x2="1023.8" y2="1478.52" stroke="#ff8000" stroke-width="1.3"/>
<rect x="1011.4" y="1483.17" width="16.4" height="71.73" fill="#ff8000"/>
<line x1="1043.7" y1="1444.38" x2="1043.7" y2="1449.63" stroke="#000000" stroke-width="1.3"/>
<line x1="1039.5" y1="1444.38" x2="1047.9" y2="1444.38" stroke="#000000" stroke-width="1.3"/>
<rect x="1035.5" y="1448.63" width="16.4" height="106.27" fill="#000000"/>
<line x1="1068" y1="1425.36" x2="1068" y2="1431.61" stroke="#94641f" stroke-width="1.3"/>
<line x1="1063.8" y1="1425.36" x2="1072.2" y2="1425.36" stroke="#94641f" stroke-width="1.3"/>
<rect x="1059.8" y="1430.61" width="16.4" height="124.29" fill="#94641f"/>
<line x1="1092.4" y1="1362.29" x2="1092.4" y2="1370.35" stroke="#000080" stroke-width="1.3"/>
<line x1="1088.2" y1="1362.29" x2="1096.6" y2="1362.29" stroke="#000080" stroke-width="1.3"/>
<rect x="1084.2" y="1369.35" width="16.4" height="185.55" fill="#000080"/>
<line x1="1116.5" y1="1332.26" x2="1116.5" y2="1338.81" stroke="#60004f" stroke-width="1.3"/>
<line x1="1112.3" y1="1332.26" x2="1120.7" y2="1332.26" stroke="#60004f" stroke-width="1.3"/>
<rect x="1108.3" y="1337.81" width="16.4" height="217.09" fill="#60004f"/>
<line x1="896.5" y1="1554.9" x2="1134.4" y2="1554.9" stroke="#000" stroke-width="2.1"/>
<line x1="922.5" y1="1554.9" x2="922.5" y2="1564.9" stroke="#000" stroke-width="2.2"/>
<text transform="translate(922.5,1579.2) scale(1,1.035)" font-size="13" text-anchor="middle">0</text>
<line x1="946.8" y1="1554.9" x2="946.8" y2="1564.9" stroke="#000" stroke-width="2.2"/>
<text transform="translate(946.8,1579.2) scale(1,1.035)" font-size="13" text-anchor="middle">0.5</text>
<line x1="970.9" y1="1554.9" x2="970.9" y2="1564.9" stroke="#000" stroke-width="2.2"/>
<text transform="translate(970.9,1579.2) scale(1,1.035)" font-size="13" text-anchor="middle">1</text>
<line x1="995.2" y1="1554.9" x2="995.2" y2="1564.9" stroke="#000" stroke-width="2.2"/>
<text transform="translate(995.2,1579.2) scale(1,1.035)" font-size="13" text-anchor="middle">2.5</text>
<line x1="1019.6" y1="1554.9" x2="1019.6" y2="1564.9" stroke="#000" stroke-width="2.2"/>
<text transform="translate(1019.6,1579.2) scale(1,1.035)" font-size="13" text-anchor="middle">5</text>
<line x1="1043.7" y1="1554.9" x2="1043.7" y2="1564.9" stroke="#000" stroke-width="2.2"/>
<text transform="translate(1043.7,1579.2) scale(1,1.035)" font-size="13" text-anchor="middle">10</text>
<line x1="1068" y1="1554.9" x2="1068" y2="1564.9" stroke="#000" stroke-width="2.2"/>
<text transform="translate(1068,1579.2) scale(1,1.035)" font-size="13" text-anchor="middle">25</text>
<line x1="1092.4" y1="1554.9" x2="1092.4" y2="1564.9" stroke="#000" stroke-width="2.2"/>
<text transform="translate(1092.4,1579.2) scale(1,1.035)" font-size="13" text-anchor="middle">50</text>
<line x1="1116.5" y1="1554.9" x2="1116.5" y2="1564.9" stroke="#000" stroke-width="2.2"/>
<text transform="translate(1116.5,1579.2) scale(1,1.035)" font-size="13" text-anchor="middle">100</text>
<text transform="translate(1129.4,1577.9) scale(1,1.035)" font-size="14.4">(μM)</text>
<line x1="914.5" y1="1585.4" x2="1138.7" y2="1585.4" stroke="#000" stroke-width="1.4"/>
<text transform="translate(1019.6,1600.2) scale(1,1.035)" font-size="14.5" text-anchor="middle">HMF (48 h)</text>
<text x="1019.8" y="1481.02" font-size="17.5" font-weight="normal" text-anchor="middle" stroke="#000" stroke-width="0.2">*</text>
<text x="1043.9" y="1446.88" font-size="17.5" font-weight="normal" text-anchor="middle" stroke="#000" stroke-width="0.2">*</text>
<text x="1068.2" y="1428.46" font-size="17.5" font-weight="normal" text-anchor="middle" stroke="#000" stroke-width="0.2">*</text>
<text x="1092.6" y="1365.59" font-size="17.5" font-weight="normal" text-anchor="middle" stroke="#000" stroke-width="0.2">*</text>
<text x="1116.7" y="1334.86" font-size="17.5" font-weight="normal" text-anchor="middle" stroke="#000" stroke-width="0.2">*</text>
</g>
<g id="panel-P">
<text transform="translate(1183.13,1275.9) scale(1,1.054)" font-size="41.4">P</text>
<text x="1436" y="1277.3" font-size="22.8" font-weight="normal" text-anchor="middle" stroke="#000" stroke-width="0.9" stroke-linejoin="round" stroke-linecap="round">CNE-2</text>
<line x1="1305.4" y1="1280.35" x2="1305.4" y2="1554.95" stroke="#000" stroke-width="2.1"/>
<line x1="1295.4" y1="1553.9" x2="1533.1" y2="1553.9" stroke="#000" stroke-width="2.1"/>
<text transform="translate(1292.4,1560.26) scale(1,1.035)" font-size="17.3" text-anchor="end">0</text>
<line x1="1295.4" y1="1499.4" x2="1305.4" y2="1499.4" stroke="#000" stroke-width="2.1"/>
<text transform="translate(1292.4,1505.76) scale(1,1.035)" font-size="17.3" text-anchor="end">20</text>
<line x1="1295.4" y1="1444.9" x2="1305.4" y2="1444.9" stroke="#000" stroke-width="2.1"/>
<text transform="translate(1292.4,1451.26) scale(1,1.035)" font-size="17.3" text-anchor="end">40</text>
<line x1="1295.4" y1="1390.4" x2="1305.4" y2="1390.4" stroke="#000" stroke-width="2.1"/>
<text transform="translate(1292.4,1396.76) scale(1,1.035)" font-size="17.3" text-anchor="end">60</text>
<line x1="1295.4" y1="1335.9" x2="1305.4" y2="1335.9" stroke="#000" stroke-width="2.1"/>
<text transform="translate(1292.4,1342.26) scale(1,1.035)" font-size="17.3" text-anchor="end">80</text>
<line x1="1295.4" y1="1281.4" x2="1305.4" y2="1281.4" stroke="#000" stroke-width="2.1"/>
<text transform="translate(1292.4,1287.76) scale(1,1.035)" font-size="17.3" text-anchor="end">100</text>
<text transform="translate(1252.5,1417.5) rotate(-90) scale(1,1.035)" font-size="19" text-anchor="middle">Inhibition rate (%)</text>
<line x1="1320.9" y1="1542.89" x2="1320.9" y2="1547.34" stroke="#0000ff" stroke-width="1.3"/>
<line x1="1316.7" y1="1542.89" x2="1325.1" y2="1542.89" stroke="#0000ff" stroke-width="1.3"/>
<rect x="1312.7" y="1546.34" width="16.4" height="7.56" fill="#0000ff"/>
<line x1="1345.2" y1="1520.06" x2="1345.2" y2="1525.22" stroke="#ff0000" stroke-width="1.3"/>
<line x1="1341" y1="1520.06" x2="1349.4" y2="1520.06" stroke="#ff0000" stroke-width="1.3"/>
<rect x="1337" y="1524.22" width="16.4" height="29.68" fill="#ff0000"/>
<line x1="1369.3" y1="1515.66" x2="1369.3" y2="1519.11" stroke="#00c000" stroke-width="1.3"/>
<line x1="1365.1" y1="1515.66" x2="1373.5" y2="1515.66" stroke="#00c000" stroke-width="1.3"/>
<rect x="1361.1" y="1518.11" width="16.4" height="35.79" fill="#00c000"/>
<line x1="1393.7" y1="1492.63" x2="1393.7" y2="1500.59" stroke="#ad07e3" stroke-width="1.3"/>
<line x1="1389.5" y1="1492.63" x2="1397.9" y2="1492.63" stroke="#ad07e3" stroke-width="1.3"/>
<rect x="1385.5" y="1499.59" width="16.4" height="54.31" fill="#ad07e3"/>
<line x1="1418" y1="1473.41" x2="1418" y2="1481.17" stroke="#ff8000" stroke-width="1.3"/>
<line x1="1413.8" y1="1473.41" x2="1422.2" y2="1473.41" stroke="#ff8000" stroke-width="1.3"/>
<rect x="1409.8" y="1480.17" width="16.4" height="73.73" fill="#ff8000"/>
<line x1="1442.4" y1="1439.47" x2="1442.4" y2="1448.03" stroke="#000000" stroke-width="1.3"/>
<line x1="1438.2" y1="1439.47" x2="1446.6" y2="1439.47" stroke="#000000" stroke-width="1.3"/>
<rect x="1434.2" y="1447.03" width="16.4" height="106.87" fill="#000000"/>
<line x1="1466.4" y1="1412.84" x2="1466.4" y2="1420.9" stroke="#94641f" stroke-width="1.3"/>
<line x1="1462.2" y1="1412.84" x2="1470.6" y2="1412.84" stroke="#94641f" stroke-width="1.3"/>
<rect x="1458.2" y="1419.9" width="16.4" height="134" fill="#94641f"/>
<line x1="1490.8" y1="1374.6" x2="1490.8" y2="1383.66" stroke="#000080" stroke-width="1.3"/>
<line x1="1486.6" y1="1374.6" x2="1495" y2="1374.6" stroke="#000080" stroke-width="1.3"/>
<rect x="1482.6" y="1382.66" width="16.4" height="171.24" fill="#000080"/>
<line x1="1514.9" y1="1309.93" x2="1514.9" y2="1316.99" stroke="#60004f" stroke-width="1.3"/>
<line x1="1510.7" y1="1309.93" x2="1519.1" y2="1309.93" stroke="#60004f" stroke-width="1.3"/>
<rect x="1506.7" y="1315.99" width="16.4" height="237.91" fill="#60004f"/>
<line x1="1295.4" y1="1553.9" x2="1533.1" y2="1553.9" stroke="#000" stroke-width="2.1"/>
<line x1="1320.9" y1="1553.9" x2="1320.9" y2="1563.9" stroke="#000" stroke-width="2.2"/>
<text transform="translate(1320.9,1577.7) scale(1,1.035)" font-size="13" text-anchor="middle">0</text>
<line x1="1345.2" y1="1553.9" x2="1345.2" y2="1563.9" stroke="#000" stroke-width="2.2"/>
<text transform="translate(1345.2,1577.7) scale(1,1.035)" font-size="13" text-anchor="middle">0.5</text>
<line x1="1369.3" y1="1553.9" x2="1369.3" y2="1563.9" stroke="#000" stroke-width="2.2"/>
<text transform="translate(1369.3,1577.7) scale(1,1.035)" font-size="13" text-anchor="middle">1.0</text>
<line x1="1393.7" y1="1553.9" x2="1393.7" y2="1563.9" stroke="#000" stroke-width="2.2"/>
<text transform="translate(1393.7,1577.7) scale(1,1.035)" font-size="13" text-anchor="middle">2.5</text>
<line x1="1418" y1="1553.9" x2="1418" y2="1563.9" stroke="#000" stroke-width="2.2"/>
<text transform="translate(1418,1577.7) scale(1,1.035)" font-size="13" text-anchor="middle">5.0</text>
<line x1="1442.4" y1="1553.9" x2="1442.4" y2="1563.9" stroke="#000" stroke-width="2.2"/>
<text transform="translate(1442.4,1577.7) scale(1,1.035)" font-size="13" text-anchor="middle">10</text>
<line x1="1466.4" y1="1553.9" x2="1466.4" y2="1563.9" stroke="#000" stroke-width="2.2"/>
<text transform="translate(1466.4,1577.7) scale(1,1.035)" font-size="13" text-anchor="middle">25</text>
<line x1="1490.8" y1="1553.9" x2="1490.8" y2="1563.9" stroke="#000" stroke-width="2.2"/>
<text transform="translate(1490.8,1577.7) scale(1,1.035)" font-size="13" text-anchor="middle">50</text>
<line x1="1514.9" y1="1553.9" x2="1514.9" y2="1563.9" stroke="#000" stroke-width="2.2"/>
<text transform="translate(1514.9,1577.7) scale(1,1.035)" font-size="13" text-anchor="middle">100</text>
<text transform="translate(1528.3,1576.4) scale(1,1.035)" font-size="14.4">(μM)</text>
<line x1="1317.8" y1="1584.4" x2="1544.6" y2="1584.4" stroke="#000" stroke-width="1.4"/>
<text transform="translate(1421.1,1599) scale(1,1.035)" font-size="14.5" text-anchor="middle">HMF (48 h)</text>
<text x="1393.9" y="1496.44" font-size="17.5" font-weight="normal" text-anchor="middle" stroke="#000" stroke-width="0.2">*</text>
<text x="1418.2" y="1475.91" font-size="17.5" font-weight="normal" text-anchor="middle" stroke="#000" stroke-width="0.2">*</text>
<text x="1442.6" y="1443.88" font-size="17.5" font-weight="normal" text-anchor="middle" stroke="#000" stroke-width="0.2">*</text>
<text x="1466.6" y="1416.15" font-size="17.5" font-weight="normal" text-anchor="middle" stroke="#000" stroke-width="0.2">*</text>
<text x="1491" y="1376.6" font-size="17.5" font-weight="normal" text-anchor="middle" stroke="#000" stroke-width="0.2">*</text>
<text x="1516.6" y="1312.23" font-size="17.5" font-weight="normal" text-anchor="middle" stroke="#000" stroke-width="0.2">*</text>
</g>
</svg>
</body></html>
